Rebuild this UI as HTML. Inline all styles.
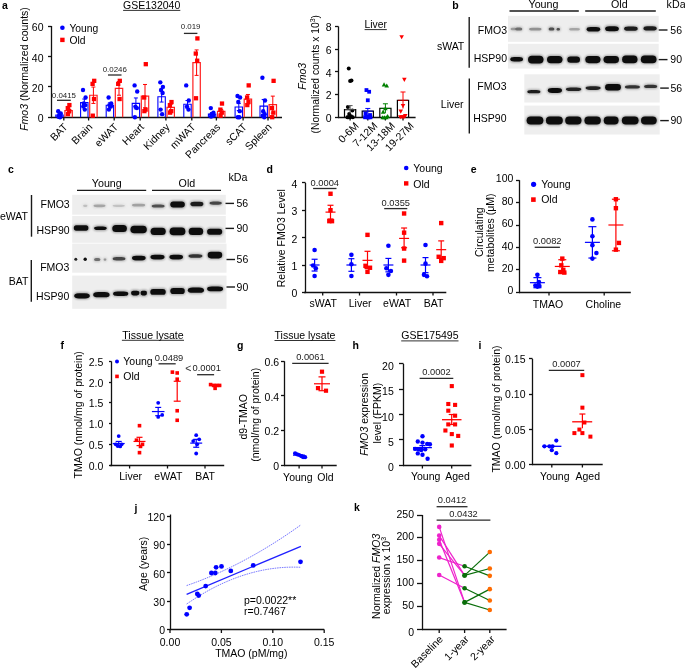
<!DOCTYPE html>
<html><head><meta charset="utf-8"><style>html,body{margin:0;padding:0;background:#fff;}svg{display:block;will-change:transform;}</style></head>
<body>
<svg width="685" height="669" viewBox="0 0 685 669" font-family='"Liberation Sans", sans-serif'>
<defs>
<filter id="b3" x="-30%" y="-100%" width="160%" height="300%"><feGaussianBlur stdDeviation="0.3"/></filter>
<filter id="b5" x="-30%" y="-100%" width="160%" height="300%"><feGaussianBlur stdDeviation="0.5"/></filter>
<filter id="b7" x="-30%" y="-100%" width="160%" height="300%"><feGaussianBlur stdDeviation="0.7"/></filter>
<filter id="b9" x="-30%" y="-100%" width="160%" height="300%"><feGaussianBlur stdDeviation="0.9"/></filter>
<filter id="b10" x="-30%" y="-100%" width="160%" height="300%"><feGaussianBlur stdDeviation="1.0"/></filter>
<filter id="b12" x="-30%" y="-100%" width="160%" height="300%"><feGaussianBlur stdDeviation="1.2"/></filter>
<filter id="b15" x="-30%" y="-100%" width="160%" height="300%"><feGaussianBlur stdDeviation="1.5"/></filter>
</defs>
<rect width="685" height="669" fill="#fff"/>
<text x="2.00" y="8.80" font-size="10.5" font-weight="bold" fill="#000">a</text>
<text x="151.70" y="8.90" font-size="10.5" text-anchor="middle">GSE132040</text>
<line x1="123.10" y1="10.40" x2="180.30" y2="10.40" stroke="#1a1a1a" stroke-width="0.9"/>
<line x1="51.50" y1="118.10" x2="51.50" y2="26.00" stroke="#111" stroke-width="1.3"/>
<line x1="48.00" y1="117.50" x2="51.50" y2="117.50" stroke="#111" stroke-width="1.3"/>
<text x="43.50" y="122.16" font-size="10.5" text-anchor="end">0</text>
<line x1="48.00" y1="86.50" x2="51.50" y2="86.50" stroke="#111" stroke-width="1.3"/>
<text x="43.50" y="91.86" font-size="10.5" text-anchor="end">20</text>
<line x1="48.00" y1="56.50" x2="51.50" y2="56.50" stroke="#111" stroke-width="1.3"/>
<text x="43.50" y="61.56" font-size="10.5" text-anchor="end">40</text>
<line x1="48.00" y1="26.50" x2="51.50" y2="26.50" stroke="#111" stroke-width="1.3"/>
<text x="43.50" y="31.26" font-size="10.5" text-anchor="end">60</text>
<line x1="50.90" y1="117.50" x2="282.00" y2="117.50" stroke="#111" stroke-width="1.3"/>
<line x1="63.80" y1="117.50" x2="63.80" y2="120.50" stroke="#111" stroke-width="1.3"/>
<line x1="88.60" y1="117.50" x2="88.60" y2="120.50" stroke="#111" stroke-width="1.3"/>
<line x1="114.20" y1="117.50" x2="114.20" y2="120.50" stroke="#111" stroke-width="1.3"/>
<line x1="140.20" y1="117.50" x2="140.20" y2="120.50" stroke="#111" stroke-width="1.3"/>
<line x1="165.90" y1="117.50" x2="165.90" y2="120.50" stroke="#111" stroke-width="1.3"/>
<line x1="191.80" y1="117.50" x2="191.80" y2="120.50" stroke="#111" stroke-width="1.3"/>
<line x1="216.40" y1="117.50" x2="216.40" y2="120.50" stroke="#111" stroke-width="1.3"/>
<line x1="243.10" y1="117.50" x2="243.10" y2="120.50" stroke="#111" stroke-width="1.3"/>
<line x1="268.00" y1="117.50" x2="268.00" y2="120.50" stroke="#111" stroke-width="1.3"/>
<path d="M55.80 117.20V114.93H63.20V117.20" fill="none" stroke="#0000ff" stroke-width="1.1"/>
<path d="M64.90 117.20V110.53H72.30V117.20" fill="none" stroke="#ff2020" stroke-width="1.2"/>
<line x1="59.50" y1="113.41" x2="59.50" y2="116.44" stroke="#0000ff" stroke-width="1.0"/>
<line x1="57.50" y1="113.41" x2="61.50" y2="113.41" stroke="#0000ff" stroke-width="1.0"/>
<line x1="57.50" y1="116.44" x2="61.50" y2="116.44" stroke="#0000ff" stroke-width="1.0"/>
<line x1="68.60" y1="108.11" x2="68.60" y2="112.96" stroke="#ff0000" stroke-width="1.0"/>
<line x1="66.60" y1="108.11" x2="70.60" y2="108.11" stroke="#ff0000" stroke-width="1.0"/>
<line x1="66.60" y1="112.96" x2="70.60" y2="112.96" stroke="#ff0000" stroke-width="1.0"/>
<circle cx="58.20" cy="111.14" r="2.2" fill="#0000ff"/>
<circle cx="60.80" cy="113.41" r="2.2" fill="#0000ff"/>
<circle cx="59.00" cy="115.69" r="2.2" fill="#0000ff"/>
<circle cx="60.50" cy="116.44" r="2.2" fill="#0000ff"/>
<circle cx="58.50" cy="116.75" r="2.2" fill="#0000ff"/>
<circle cx="60.00" cy="117.20" r="2.2" fill="#0000ff"/>
<rect x="67.25" y="102.93" width="4.3" height="4.3" fill="#ff0000"/>
<rect x="65.65" y="105.96" width="4.3" height="4.3" fill="#ff0000"/>
<rect x="67.05" y="108.99" width="4.3" height="4.3" fill="#ff0000"/>
<rect x="65.85" y="112.02" width="4.3" height="4.3" fill="#ff0000"/>
<text x="68.30" y="127.70" font-size="10.5" text-anchor="end" transform="rotate(-45 68.30 127.70)">BAT</text>
<path d="M80.60 117.20V102.50H88.00V117.20" fill="none" stroke="#0000ff" stroke-width="1.1"/>
<path d="M89.70 117.20V95.23H97.10V117.20" fill="none" stroke="#ff2020" stroke-width="1.2"/>
<line x1="84.30" y1="99.02" x2="84.30" y2="105.99" stroke="#0000ff" stroke-width="1.0"/>
<line x1="82.30" y1="99.02" x2="86.30" y2="99.02" stroke="#0000ff" stroke-width="1.0"/>
<line x1="82.30" y1="105.99" x2="86.30" y2="105.99" stroke="#0000ff" stroke-width="1.0"/>
<line x1="93.40" y1="87.05" x2="93.40" y2="103.41" stroke="#ff0000" stroke-width="1.0"/>
<line x1="91.40" y1="87.05" x2="95.40" y2="87.05" stroke="#ff0000" stroke-width="1.0"/>
<line x1="91.40" y1="103.41" x2="95.40" y2="103.41" stroke="#ff0000" stroke-width="1.0"/>
<circle cx="83.00" cy="89.93" r="2.2" fill="#0000ff"/>
<circle cx="85.60" cy="97.50" r="2.2" fill="#0000ff"/>
<circle cx="83.80" cy="103.56" r="2.2" fill="#0000ff"/>
<circle cx="85.30" cy="105.08" r="2.2" fill="#0000ff"/>
<circle cx="83.30" cy="106.59" r="2.2" fill="#0000ff"/>
<circle cx="84.80" cy="109.62" r="2.2" fill="#0000ff"/>
<rect x="92.05" y="78.69" width="4.3" height="4.3" fill="#ff0000"/>
<rect x="90.45" y="81.72" width="4.3" height="4.3" fill="#ff0000"/>
<rect x="91.85" y="96.87" width="4.3" height="4.3" fill="#ff0000"/>
<rect x="90.65" y="113.53" width="4.3" height="4.3" fill="#ff0000"/>
<text x="93.10" y="127.70" font-size="10.5" text-anchor="end" transform="rotate(-45 93.10 127.70)">Brain</text>
<path d="M106.20 117.20V105.23H113.60V117.20" fill="none" stroke="#0000ff" stroke-width="1.1"/>
<path d="M115.30 117.20V88.42H122.70V117.20" fill="none" stroke="#ff2020" stroke-width="1.2"/>
<line x1="109.90" y1="102.81" x2="109.90" y2="107.66" stroke="#0000ff" stroke-width="1.0"/>
<line x1="107.90" y1="102.81" x2="111.90" y2="102.81" stroke="#0000ff" stroke-width="1.0"/>
<line x1="107.90" y1="107.66" x2="111.90" y2="107.66" stroke="#0000ff" stroke-width="1.0"/>
<line x1="119.00" y1="81.60" x2="119.00" y2="95.23" stroke="#ff0000" stroke-width="1.0"/>
<line x1="117.00" y1="81.60" x2="121.00" y2="81.60" stroke="#ff0000" stroke-width="1.0"/>
<line x1="117.00" y1="95.23" x2="121.00" y2="95.23" stroke="#ff0000" stroke-width="1.0"/>
<circle cx="108.60" cy="97.50" r="2.2" fill="#0000ff"/>
<circle cx="111.20" cy="103.56" r="2.2" fill="#0000ff"/>
<circle cx="109.40" cy="105.08" r="2.2" fill="#0000ff"/>
<circle cx="110.90" cy="106.59" r="2.2" fill="#0000ff"/>
<circle cx="108.90" cy="109.62" r="2.2" fill="#0000ff"/>
<rect x="117.65" y="78.69" width="4.3" height="4.3" fill="#ff0000"/>
<rect x="116.05" y="81.72" width="4.3" height="4.3" fill="#ff0000"/>
<rect x="117.45" y="96.87" width="4.3" height="4.3" fill="#ff0000"/>
<text x="118.70" y="127.70" font-size="10.5" text-anchor="end" transform="rotate(-45 118.70 127.70)">eWAT</text>
<path d="M132.20 117.20V103.41H139.60V117.20" fill="none" stroke="#0000ff" stroke-width="1.1"/>
<path d="M141.30 117.20V96.14H148.70V117.20" fill="none" stroke="#ff2020" stroke-width="1.2"/>
<line x1="135.90" y1="97.96" x2="135.90" y2="108.87" stroke="#0000ff" stroke-width="1.0"/>
<line x1="133.90" y1="97.96" x2="137.90" y2="97.96" stroke="#0000ff" stroke-width="1.0"/>
<line x1="133.90" y1="108.87" x2="137.90" y2="108.87" stroke="#0000ff" stroke-width="1.0"/>
<line x1="145.00" y1="84.48" x2="145.00" y2="107.81" stroke="#ff0000" stroke-width="1.0"/>
<line x1="143.00" y1="84.48" x2="147.00" y2="84.48" stroke="#ff0000" stroke-width="1.0"/>
<line x1="143.00" y1="107.81" x2="147.00" y2="107.81" stroke="#ff0000" stroke-width="1.0"/>
<circle cx="134.60" cy="85.39" r="2.2" fill="#0000ff"/>
<circle cx="137.20" cy="91.45" r="2.2" fill="#0000ff"/>
<circle cx="135.40" cy="106.59" r="2.2" fill="#0000ff"/>
<circle cx="136.90" cy="108.11" r="2.2" fill="#0000ff"/>
<circle cx="134.90" cy="117.20" r="2.2" fill="#0000ff"/>
<rect x="143.65" y="62.03" width="4.3" height="4.3" fill="#ff0000"/>
<rect x="142.05" y="95.35" width="4.3" height="4.3" fill="#ff0000"/>
<rect x="143.45" y="107.47" width="4.3" height="4.3" fill="#ff0000"/>
<rect x="142.25" y="108.99" width="4.3" height="4.3" fill="#ff0000"/>
<text x="144.70" y="127.70" font-size="10.5" text-anchor="end" transform="rotate(-45 144.70 127.70)">Heart</text>
<path d="M157.90 117.20V96.75H165.30V117.20" fill="none" stroke="#0000ff" stroke-width="1.1"/>
<path d="M167.00 117.20V107.35H174.40V117.20" fill="none" stroke="#ff2020" stroke-width="1.2"/>
<line x1="161.60" y1="91.45" x2="161.60" y2="102.05" stroke="#0000ff" stroke-width="1.0"/>
<line x1="159.60" y1="91.45" x2="163.60" y2="91.45" stroke="#0000ff" stroke-width="1.0"/>
<line x1="159.60" y1="102.05" x2="163.60" y2="102.05" stroke="#0000ff" stroke-width="1.0"/>
<line x1="170.70" y1="104.32" x2="170.70" y2="110.38" stroke="#ff0000" stroke-width="1.0"/>
<line x1="168.70" y1="104.32" x2="172.70" y2="104.32" stroke="#ff0000" stroke-width="1.0"/>
<line x1="168.70" y1="110.38" x2="172.70" y2="110.38" stroke="#ff0000" stroke-width="1.0"/>
<circle cx="160.30" cy="82.36" r="2.2" fill="#0000ff"/>
<circle cx="162.90" cy="86.90" r="2.2" fill="#0000ff"/>
<circle cx="161.10" cy="89.93" r="2.2" fill="#0000ff"/>
<circle cx="162.60" cy="92.96" r="2.2" fill="#0000ff"/>
<circle cx="160.60" cy="109.62" r="2.2" fill="#0000ff"/>
<circle cx="162.10" cy="114.17" r="2.2" fill="#0000ff"/>
<rect x="169.35" y="99.90" width="4.3" height="4.3" fill="#ff0000"/>
<rect x="167.75" y="102.93" width="4.3" height="4.3" fill="#ff0000"/>
<rect x="169.15" y="108.99" width="4.3" height="4.3" fill="#ff0000"/>
<rect x="167.95" y="110.50" width="4.3" height="4.3" fill="#ff0000"/>
<text x="170.40" y="127.70" font-size="10.5" text-anchor="end" transform="rotate(-45 170.40 127.70)">Kidney</text>
<path d="M183.80 117.20V104.32H191.20V117.20" fill="none" stroke="#0000ff" stroke-width="1.1"/>
<path d="M192.90 117.20V62.66H200.30V117.20" fill="none" stroke="#ff2020" stroke-width="1.2"/>
<line x1="187.50" y1="100.53" x2="187.50" y2="108.11" stroke="#0000ff" stroke-width="1.0"/>
<line x1="185.50" y1="100.53" x2="189.50" y2="100.53" stroke="#0000ff" stroke-width="1.0"/>
<line x1="185.50" y1="108.11" x2="189.50" y2="108.11" stroke="#0000ff" stroke-width="1.0"/>
<line x1="196.60" y1="49.93" x2="196.60" y2="75.39" stroke="#ff0000" stroke-width="1.0"/>
<line x1="194.60" y1="49.93" x2="198.60" y2="49.93" stroke="#ff0000" stroke-width="1.0"/>
<line x1="194.60" y1="75.39" x2="198.60" y2="75.39" stroke="#ff0000" stroke-width="1.0"/>
<circle cx="186.20" cy="85.39" r="2.2" fill="#0000ff"/>
<circle cx="188.80" cy="100.53" r="2.2" fill="#0000ff"/>
<circle cx="187.00" cy="106.59" r="2.2" fill="#0000ff"/>
<circle cx="188.50" cy="109.62" r="2.2" fill="#0000ff"/>
<rect x="195.25" y="36.27" width="4.3" height="4.3" fill="#ff0000"/>
<rect x="193.65" y="51.42" width="4.3" height="4.3" fill="#ff0000"/>
<rect x="195.05" y="58.54" width="4.3" height="4.3" fill="#ff0000"/>
<rect x="193.85" y="96.11" width="4.3" height="4.3" fill="#ff0000"/>
<text x="196.30" y="127.70" font-size="10.5" text-anchor="end" transform="rotate(-45 196.30 127.70)">mWAT</text>
<path d="M208.40 117.20V114.17H215.80V117.20" fill="none" stroke="#0000ff" stroke-width="1.1"/>
<path d="M217.50 117.20V111.44H224.90V117.20" fill="none" stroke="#ff2020" stroke-width="1.2"/>
<line x1="212.10" y1="112.66" x2="212.10" y2="115.69" stroke="#0000ff" stroke-width="1.0"/>
<line x1="210.10" y1="112.66" x2="214.10" y2="112.66" stroke="#0000ff" stroke-width="1.0"/>
<line x1="210.10" y1="115.69" x2="214.10" y2="115.69" stroke="#0000ff" stroke-width="1.0"/>
<line x1="221.20" y1="109.62" x2="221.20" y2="113.26" stroke="#ff0000" stroke-width="1.0"/>
<line x1="219.20" y1="109.62" x2="223.20" y2="109.62" stroke="#ff0000" stroke-width="1.0"/>
<line x1="219.20" y1="113.26" x2="223.20" y2="113.26" stroke="#ff0000" stroke-width="1.0"/>
<circle cx="210.80" cy="108.11" r="2.2" fill="#0000ff"/>
<circle cx="213.40" cy="112.66" r="2.2" fill="#0000ff"/>
<circle cx="211.60" cy="114.17" r="2.2" fill="#0000ff"/>
<circle cx="213.10" cy="115.69" r="2.2" fill="#0000ff"/>
<circle cx="211.10" cy="116.44" r="2.2" fill="#0000ff"/>
<rect x="219.85" y="101.41" width="4.3" height="4.3" fill="#ff0000"/>
<rect x="218.25" y="107.47" width="4.3" height="4.3" fill="#ff0000"/>
<rect x="219.65" y="110.50" width="4.3" height="4.3" fill="#ff0000"/>
<rect x="218.45" y="113.53" width="4.3" height="4.3" fill="#ff0000"/>
<text x="220.90" y="127.70" font-size="10.5" text-anchor="end" transform="rotate(-45 220.90 127.70)">Pancreas</text>
<path d="M235.10 117.20V107.05H242.50V117.20" fill="none" stroke="#0000ff" stroke-width="1.1"/>
<path d="M244.20 117.20V99.17H251.60V117.20" fill="none" stroke="#ff2020" stroke-width="1.2"/>
<line x1="238.80" y1="103.56" x2="238.80" y2="110.53" stroke="#0000ff" stroke-width="1.0"/>
<line x1="236.80" y1="103.56" x2="240.80" y2="103.56" stroke="#0000ff" stroke-width="1.0"/>
<line x1="236.80" y1="110.53" x2="240.80" y2="110.53" stroke="#0000ff" stroke-width="1.0"/>
<line x1="247.90" y1="94.48" x2="247.90" y2="103.87" stroke="#ff0000" stroke-width="1.0"/>
<line x1="245.90" y1="94.48" x2="249.90" y2="94.48" stroke="#ff0000" stroke-width="1.0"/>
<line x1="245.90" y1="103.87" x2="249.90" y2="103.87" stroke="#ff0000" stroke-width="1.0"/>
<circle cx="237.50" cy="95.99" r="2.2" fill="#0000ff"/>
<circle cx="240.10" cy="97.50" r="2.2" fill="#0000ff"/>
<circle cx="238.30" cy="102.05" r="2.2" fill="#0000ff"/>
<circle cx="239.80" cy="111.14" r="2.2" fill="#0000ff"/>
<circle cx="237.80" cy="117.20" r="2.2" fill="#0000ff"/>
<circle cx="239.30" cy="117.20" r="2.2" fill="#0000ff"/>
<rect x="246.55" y="83.23" width="4.3" height="4.3" fill="#ff0000"/>
<rect x="244.95" y="95.35" width="4.3" height="4.3" fill="#ff0000"/>
<rect x="246.35" y="99.90" width="4.3" height="4.3" fill="#ff0000"/>
<rect x="245.15" y="102.93" width="4.3" height="4.3" fill="#ff0000"/>
<text x="247.60" y="127.70" font-size="10.5" text-anchor="end" transform="rotate(-45 247.60 127.70)">sCAT</text>
<path d="M260.00 117.20V106.14H267.40V117.20" fill="none" stroke="#0000ff" stroke-width="1.1"/>
<path d="M269.10 117.20V104.63H276.50V117.20" fill="none" stroke="#ff2020" stroke-width="1.2"/>
<line x1="263.70" y1="99.47" x2="263.70" y2="112.81" stroke="#0000ff" stroke-width="1.0"/>
<line x1="261.70" y1="99.47" x2="265.70" y2="99.47" stroke="#0000ff" stroke-width="1.0"/>
<line x1="261.70" y1="112.81" x2="265.70" y2="112.81" stroke="#0000ff" stroke-width="1.0"/>
<line x1="272.80" y1="96.14" x2="272.80" y2="113.11" stroke="#ff0000" stroke-width="1.0"/>
<line x1="270.80" y1="96.14" x2="274.80" y2="96.14" stroke="#ff0000" stroke-width="1.0"/>
<line x1="270.80" y1="113.11" x2="274.80" y2="113.11" stroke="#ff0000" stroke-width="1.0"/>
<circle cx="262.40" cy="77.81" r="2.2" fill="#0000ff"/>
<circle cx="265.00" cy="100.53" r="2.2" fill="#0000ff"/>
<circle cx="263.20" cy="111.14" r="2.2" fill="#0000ff"/>
<circle cx="264.70" cy="114.17" r="2.2" fill="#0000ff"/>
<circle cx="262.70" cy="115.69" r="2.2" fill="#0000ff"/>
<circle cx="264.20" cy="117.20" r="2.2" fill="#0000ff"/>
<rect x="271.45" y="78.69" width="4.3" height="4.3" fill="#ff0000"/>
<rect x="269.85" y="105.96" width="4.3" height="4.3" fill="#ff0000"/>
<rect x="271.25" y="110.50" width="4.3" height="4.3" fill="#ff0000"/>
<rect x="270.05" y="115.05" width="4.3" height="4.3" fill="#ff0000"/>
<text x="272.50" y="127.70" font-size="10.5" text-anchor="end" transform="rotate(-45 272.50 127.70)">Spleen</text>
<text x="28" y="69" font-size="10.5" text-anchor="middle" transform="rotate(-90 28 69)"><tspan font-style="italic">Fmo3</tspan> (Normalized counts)</text>
<circle cx="62.40" cy="27.80" r="2.3" fill="#0000ff"/>
<text x="69.40" y="31.50" font-size="10.3">Young</text>
<rect x="60.20" y="37.70" width="4.4" height="4.4" fill="#ff0000"/>
<text x="69.40" y="43.60" font-size="10.3">Old</text>
<line x1="57.00" y1="100.30" x2="70.80" y2="100.30" stroke="#2a2a2a" stroke-width="1.3"/>
<text x="63.90" y="97.60" font-size="7.9" text-anchor="middle" fill="#222">0.0415</text>
<line x1="108.00" y1="75.00" x2="121.50" y2="75.00" stroke="#2a2a2a" stroke-width="1.3"/>
<text x="114.75" y="72.30" font-size="7.9" text-anchor="middle" fill="#222">0.0246</text>
<line x1="183.90" y1="33.40" x2="197.40" y2="33.40" stroke="#2a2a2a" stroke-width="1.3"/>
<text x="190.65" y="29.30" font-size="7.9" text-anchor="middle" fill="#222">0.019</text>
<line x1="338.50" y1="118.10" x2="338.50" y2="26.50" stroke="#111" stroke-width="1.3"/>
<line x1="335.00" y1="117.50" x2="338.50" y2="117.50" stroke="#111" stroke-width="1.3"/>
<text x="331.50" y="122.06" font-size="10.5" text-anchor="end">0</text>
<line x1="335.00" y1="94.50" x2="338.50" y2="94.50" stroke="#111" stroke-width="1.3"/>
<text x="331.50" y="99.36" font-size="10.5" text-anchor="end">2</text>
<line x1="335.00" y1="71.50" x2="338.50" y2="71.50" stroke="#111" stroke-width="1.3"/>
<text x="331.50" y="76.66" font-size="10.5" text-anchor="end">4</text>
<line x1="335.00" y1="49.50" x2="338.50" y2="49.50" stroke="#111" stroke-width="1.3"/>
<text x="331.50" y="53.96" font-size="10.5" text-anchor="end">6</text>
<line x1="335.00" y1="26.50" x2="338.50" y2="26.50" stroke="#111" stroke-width="1.3"/>
<text x="331.50" y="31.26" font-size="10.5" text-anchor="end">8</text>
<line x1="337.90" y1="117.50" x2="415.60" y2="117.50" stroke="#111" stroke-width="1.3"/>
<line x1="350.10" y1="117.50" x2="350.10" y2="120.50" stroke="#111" stroke-width="1.3"/>
<line x1="367.80" y1="117.50" x2="367.80" y2="120.50" stroke="#111" stroke-width="1.3"/>
<line x1="385.40" y1="117.50" x2="385.40" y2="120.50" stroke="#111" stroke-width="1.3"/>
<line x1="403.00" y1="117.50" x2="403.00" y2="120.50" stroke="#111" stroke-width="1.3"/>
<text x="375.70" y="27.80" font-size="10.3" text-anchor="middle">Liver</text>
<line x1="364.60" y1="29.60" x2="386.80" y2="29.60" stroke="#1a1a1a" stroke-width="0.9"/>
<path d="M344.50 117.30V109.58H355.70V117.30" fill="none" stroke="#000" stroke-width="1.2"/>
<path d="M362.20 117.30V111.17H373.40V117.30" fill="none" stroke="#000" stroke-width="1.2"/>
<path d="M379.80 117.30V108.45H391.00V117.30" fill="none" stroke="#000" stroke-width="1.2"/>
<path d="M397.40 117.30V100.28H408.60V117.30" fill="none" stroke="#000" stroke-width="1.2"/>
<circle cx="348.75" cy="68.50" r="2.0" fill="#000"/>
<circle cx="351.45" cy="80.41" r="2.0" fill="#000"/>
<circle cx="350.10" cy="80.98" r="2.0" fill="#000"/>
<circle cx="347.85" cy="107.08" r="2.0" fill="#000"/>
<circle cx="352.35" cy="110.49" r="2.0" fill="#000"/>
<circle cx="349.20" cy="113.89" r="2.0" fill="#000"/>
<circle cx="351.00" cy="116.16" r="2.0" fill="#000"/>
<circle cx="347.40" cy="117.30" r="2.0" fill="#000"/>
<circle cx="352.80" cy="117.30" r="2.0" fill="#000"/>
<circle cx="350.10" cy="117.30" r="2.0" fill="#000"/>
<circle cx="348.30" cy="117.30" r="2.0" fill="#000"/>
<line x1="350.10" y1="105.61" x2="350.10" y2="113.55" stroke="#555" stroke-width="1.0"/>
<line x1="347.60" y1="105.61" x2="352.60" y2="105.61" stroke="#555" stroke-width="1.0"/>
<line x1="345.10" y1="109.58" x2="355.10" y2="109.58" stroke="#555" stroke-width="0.8"/>
<rect x="364.55" y="88.16" width="3.8" height="3.8" fill="#0000ff"/>
<rect x="367.25" y="89.86" width="3.8" height="3.8" fill="#0000ff"/>
<rect x="365.90" y="98.38" width="3.8" height="3.8" fill="#0000ff"/>
<rect x="363.65" y="111.99" width="3.8" height="3.8" fill="#0000ff"/>
<rect x="368.15" y="113.13" width="3.8" height="3.8" fill="#0000ff"/>
<rect x="365.00" y="114.26" width="3.8" height="3.8" fill="#0000ff"/>
<rect x="366.80" y="115.40" width="3.8" height="3.8" fill="#0000ff"/>
<rect x="363.20" y="115.40" width="3.8" height="3.8" fill="#0000ff"/>
<rect x="368.60" y="115.40" width="3.8" height="3.8" fill="#0000ff"/>
<rect x="365.90" y="115.40" width="3.8" height="3.8" fill="#0000ff"/>
<line x1="367.80" y1="108.45" x2="367.80" y2="113.89" stroke="#0000ff" stroke-width="1.0"/>
<line x1="365.30" y1="108.45" x2="370.30" y2="108.45" stroke="#0000ff" stroke-width="1.0"/>
<line x1="362.80" y1="111.17" x2="372.80" y2="111.17" stroke="#0000ff" stroke-width="0.8"/>
<path d="M381.75 86.45L386.35 86.45L384.05 82.31Z" fill="#008000"/>
<path d="M384.45 87.59L389.05 87.59L386.75 83.45Z" fill="#008000"/>
<path d="M383.10 110.29L387.70 110.29L385.40 106.15Z" fill="#008000"/>
<path d="M380.85 113.69L385.45 113.69L383.15 109.56Z" fill="#008000"/>
<path d="M385.35 118.23L389.95 118.23L387.65 114.09Z" fill="#008000"/>
<path d="M382.20 119.37L386.80 119.37L384.50 115.23Z" fill="#008000"/>
<path d="M384.00 119.37L388.60 119.37L386.30 115.23Z" fill="#008000"/>
<path d="M380.40 119.37L385.00 119.37L382.70 115.23Z" fill="#008000"/>
<line x1="385.40" y1="103.79" x2="385.40" y2="113.10" stroke="#008000" stroke-width="1.0"/>
<line x1="382.90" y1="103.79" x2="387.90" y2="103.79" stroke="#008000" stroke-width="1.0"/>
<line x1="380.40" y1="108.45" x2="390.40" y2="108.45" stroke="#008000" stroke-width="0.8"/>
<path d="M399.35 35.21L403.95 35.21L401.65 39.35Z" fill="#ff0000"/>
<path d="M402.05 77.78L406.65 77.78L404.35 81.91Z" fill="#ff0000"/>
<path d="M400.70 103.88L405.30 103.88L403.00 108.02Z" fill="#ff0000"/>
<path d="M398.45 109.56L403.05 109.56L400.75 113.69Z" fill="#ff0000"/>
<path d="M402.95 114.09L407.55 114.09L405.25 118.23Z" fill="#ff0000"/>
<path d="M399.80 115.23L404.40 115.23L402.10 119.37Z" fill="#ff0000"/>
<path d="M401.60 115.23L406.20 115.23L403.90 119.37Z" fill="#ff0000"/>
<path d="M398.00 115.23L402.60 115.23L400.30 119.37Z" fill="#ff0000"/>
<line x1="403.00" y1="91.99" x2="403.00" y2="108.56" stroke="#ff0000" stroke-width="1.0"/>
<line x1="400.50" y1="91.99" x2="405.50" y2="91.99" stroke="#ff0000" stroke-width="1.0"/>
<line x1="398.00" y1="100.28" x2="408.00" y2="100.28" stroke="#ff0000" stroke-width="0.8"/>
<text x="359.40" y="126.50" font-size="10.5" text-anchor="end" transform="rotate(-45 359.40 126.50)">0-6M</text>
<text x="378.10" y="126.50" font-size="10.5" text-anchor="end" transform="rotate(-45 378.10 126.50)">7-12M</text>
<text x="395.70" y="126.50" font-size="10.5" text-anchor="end" transform="rotate(-45 395.70 126.50)">13-18M</text>
<text x="414.40" y="126.50" font-size="10.5" text-anchor="end" transform="rotate(-45 414.40 126.50)">19-27M</text>
<text x="306.2" y="76.2" font-size="10.5" text-anchor="middle" font-style="italic" transform="rotate(-90 306.2 76.2)">Fmo3</text>
<text x="319.2" y="74.2" font-size="10.3" text-anchor="middle" transform="rotate(-90 319.2 74.2)">(Normalized counts x 10<tspan font-size="7" dy="-4">3</tspan><tspan dy="4">)</tspan></text>
<text x="452.30" y="8.50" font-size="10.5" font-weight="bold" fill="#000">b</text>
<text x="543.50" y="8.00" font-size="10.7" text-anchor="middle">Young</text>
<line x1="509.50" y1="11.00" x2="578.80" y2="11.00" stroke="#1a1a1a" stroke-width="1.4"/>
<text x="619.30" y="7.80" font-size="10.7" text-anchor="middle">Old</text>
<line x1="585.20" y1="11.00" x2="655.80" y2="11.00" stroke="#1a1a1a" stroke-width="1.4"/>
<text x="666.60" y="7.80" font-size="10.7">kDa</text>
<line x1="469.20" y1="17.00" x2="469.20" y2="67.70" stroke="#1a1a1a" stroke-width="1.4"/>
<text x="464.30" y="49.70" font-size="10.5" text-anchor="end">sWAT</text>
<text x="507.00" y="34.40" font-size="10.5" text-anchor="end">FMO3</text>
<text x="507.00" y="62.40" font-size="10.5" text-anchor="end">HSP90</text>
<rect x="508.00" y="15.80" width="150.70" height="26.00" fill="#eeeeee"/>
<rect x="508.00" y="43.80" width="150.70" height="24.80" fill="#eeeeee"/>
<rect x="509.90" y="26.80" width="6.70" height="4.40" rx="1.65" ry="2.20" fill="#999" opacity="0.32" filter="url(#b12)"/>
<rect x="510.60" y="27.70" width="5.30" height="2.60" rx="1.65" ry="1.30" fill="#999" opacity="0.9" filter="url(#b7)"/>
<rect x="514.40" y="26.60" width="8.60" height="4.80" rx="2.22" ry="2.40" fill="#666" opacity="0.32" filter="url(#b12)"/>
<rect x="515.10" y="27.50" width="7.20" height="3.00" rx="2.22" ry="1.50" fill="#666" opacity="0.9" filter="url(#b7)"/>
<rect x="528.40" y="26.90" width="13.80" height="4.60" rx="3.78" ry="2.30" fill="#888" opacity="0.30" filter="url(#b12)"/>
<rect x="529.10" y="27.80" width="12.40" height="2.80" rx="3.78" ry="1.40" fill="#888" opacity="0.85" filter="url(#b7)"/>
<rect x="547.90" y="26.60" width="7.20" height="4.80" rx="1.80" ry="2.40" fill="#444" opacity="0.32" filter="url(#b12)"/>
<rect x="548.60" y="27.50" width="5.80" height="3.00" rx="1.80" ry="1.50" fill="#444" opacity="0.9" filter="url(#b7)"/>
<rect x="555.90" y="27.10" width="4.70" height="4.40" rx="1.05" ry="2.20" fill="#444" opacity="0.32" filter="url(#b12)"/>
<rect x="556.60" y="28.00" width="3.30" height="2.60" rx="1.05" ry="1.30" fill="#444" opacity="0.9" filter="url(#b7)"/>
<rect x="568.40" y="27.00" width="12.20" height="4.40" rx="3.30" ry="2.20" fill="#999" opacity="0.28" filter="url(#b12)"/>
<rect x="569.10" y="27.90" width="10.80" height="2.60" rx="3.30" ry="1.30" fill="#999" opacity="0.8" filter="url(#b7)"/>
<rect x="585.90" y="26.10" width="15.00" height="6.40" rx="4.14" ry="3.20" fill="#111" opacity="0.35" filter="url(#b12)"/>
<rect x="586.60" y="27.00" width="13.60" height="4.60" rx="4.14" ry="2.30" fill="#111" opacity="1" filter="url(#b7)"/>
<rect x="604.40" y="25.30" width="15.20" height="6.80" rx="4.20" ry="3.40" fill="#111" opacity="0.35" filter="url(#b12)"/>
<rect x="605.10" y="26.20" width="13.80" height="5.00" rx="4.20" ry="2.50" fill="#111" opacity="1" filter="url(#b7)"/>
<rect x="623.40" y="25.70" width="15.00" height="6.00" rx="4.14" ry="3.00" fill="#1a1a1a" opacity="0.35" filter="url(#b12)"/>
<rect x="624.10" y="26.60" width="13.60" height="4.20" rx="4.14" ry="2.10" fill="#1a1a1a" opacity="1" filter="url(#b7)"/>
<rect x="642.80" y="25.40" width="14.60" height="6.00" rx="4.02" ry="3.00" fill="#1a1a1a" opacity="0.35" filter="url(#b12)"/>
<rect x="643.50" y="26.30" width="13.20" height="4.20" rx="4.02" ry="2.10" fill="#1a1a1a" opacity="1" filter="url(#b7)"/>
<rect x="509.60" y="56.20" width="14.10" height="6.20" rx="3.87" ry="3.10" fill="#0d0d0d" opacity="0.35" filter="url(#b12)"/>
<rect x="510.30" y="57.10" width="12.70" height="4.40" rx="3.87" ry="2.20" fill="#0d0d0d" opacity="1" filter="url(#b7)"/>
<rect x="527.10" y="54.80" width="17.30" height="9.60" rx="4.80" fill="#0d0d0d" opacity="0.35" filter="url(#b12)"/>
<rect x="528.00" y="55.70" width="15.50" height="7.80" rx="3.90" fill="#0d0d0d" opacity="1" filter="url(#b7)"/>
<rect x="546.10" y="55.00" width="17.30" height="9.20" rx="4.60" fill="#0d0d0d" opacity="0.35" filter="url(#b12)"/>
<rect x="547.00" y="55.90" width="15.50" height="7.40" rx="3.70" fill="#0d0d0d" opacity="1" filter="url(#b7)"/>
<rect x="566.40" y="55.50" width="14.50" height="8.20" rx="4.10" fill="#0d0d0d" opacity="0.35" filter="url(#b12)"/>
<rect x="567.30" y="56.40" width="12.70" height="6.40" rx="3.20" fill="#0d0d0d" opacity="1" filter="url(#b7)"/>
<rect x="584.40" y="55.15" width="17.00" height="8.90" rx="4.45" fill="#0d0d0d" opacity="0.35" filter="url(#b12)"/>
<rect x="585.30" y="56.05" width="15.20" height="7.10" rx="3.55" fill="#0d0d0d" opacity="1" filter="url(#b7)"/>
<rect x="602.60" y="55.15" width="17.30" height="8.90" rx="4.45" fill="#0d0d0d" opacity="0.35" filter="url(#b12)"/>
<rect x="603.50" y="56.05" width="15.50" height="7.10" rx="3.55" fill="#0d0d0d" opacity="1" filter="url(#b7)"/>
<rect x="621.20" y="54.70" width="17.20" height="9.40" rx="4.70" fill="#0d0d0d" opacity="0.35" filter="url(#b12)"/>
<rect x="622.10" y="55.60" width="15.40" height="7.60" rx="3.80" fill="#0d0d0d" opacity="1" filter="url(#b7)"/>
<rect x="639.90" y="54.70" width="17.50" height="9.40" rx="4.70" fill="#0d0d0d" opacity="0.35" filter="url(#b12)"/>
<rect x="640.80" y="55.60" width="15.70" height="7.60" rx="3.80" fill="#0d0d0d" opacity="1" filter="url(#b7)"/>
<line x1="658.70" y1="30.00" x2="667.50" y2="30.00" stroke="#1a1a1a" stroke-width="1.4"/>
<text x="670.30" y="33.80" font-size="10.5">56</text>
<line x1="658.70" y1="59.60" x2="667.50" y2="59.60" stroke="#1a1a1a" stroke-width="1.4"/>
<text x="670.30" y="63.40" font-size="10.5">90</text>
<line x1="469.30" y1="78.60" x2="469.30" y2="133.40" stroke="#1a1a1a" stroke-width="1.4"/>
<text x="463.60" y="107.70" font-size="10.5" text-anchor="end">Liver</text>
<text x="506.50" y="90.20" font-size="10.5" text-anchor="end">FMO3</text>
<text x="506.50" y="122.40" font-size="10.5" text-anchor="end">HSP90</text>
<rect x="524.30" y="74.30" width="135.40" height="28.20" fill="#eeeeee"/>
<rect x="524.30" y="105.60" width="135.40" height="28.90" fill="#eeeeee"/>
<rect x="526.60" y="89.20" width="14.50" height="5.00" rx="3.99" ry="2.50" fill="#1a1a1a" opacity="0.35" filter="url(#b12)"/>
<rect x="527.30" y="90.10" width="13.10" height="3.20" rx="3.99" ry="1.60" fill="#1a1a1a" opacity="1" filter="url(#b7)"/>
<rect x="547.10" y="87.20" width="15.60" height="6.60" rx="4.32" ry="3.30" fill="#0d0d0d" opacity="0.35" filter="url(#b12)"/>
<rect x="547.80" y="88.10" width="14.20" height="4.80" rx="4.32" ry="2.40" fill="#0d0d0d" opacity="1" filter="url(#b7)"/>
<rect x="565.20" y="86.60" width="16.80" height="5.40" rx="4.68" ry="2.70" fill="#222" opacity="0.35" filter="url(#b12)"/>
<rect x="565.90" y="87.50" width="15.40" height="3.60" rx="4.68" ry="1.80" fill="#222" opacity="1" filter="url(#b7)"/>
<rect x="584.90" y="85.40" width="16.40" height="5.40" rx="4.56" ry="2.70" fill="#222" opacity="0.35" filter="url(#b12)"/>
<rect x="585.60" y="86.30" width="15.00" height="3.60" rx="4.56" ry="1.80" fill="#222" opacity="1" filter="url(#b7)"/>
<rect x="604.20" y="83.10" width="17.60" height="8.40" rx="4.20" fill="#0a0a0a" opacity="0.35" filter="url(#b12)"/>
<rect x="605.10" y="84.00" width="15.80" height="6.60" rx="3.30" fill="#0a0a0a" opacity="1" filter="url(#b7)"/>
<rect x="624.20" y="84.40" width="16.40" height="5.00" rx="4.56" ry="2.50" fill="#333" opacity="0.35" filter="url(#b12)"/>
<rect x="624.90" y="85.30" width="15.00" height="3.20" rx="4.56" ry="1.60" fill="#333" opacity="1" filter="url(#b7)"/>
<rect x="643.40" y="83.80" width="14.50" height="5.20" rx="3.99" ry="2.60" fill="#333" opacity="0.35" filter="url(#b12)"/>
<rect x="644.10" y="84.70" width="13.10" height="3.40" rx="3.99" ry="1.70" fill="#333" opacity="1" filter="url(#b7)"/>
<rect x="525.70" y="115.70" width="18.60" height="9.80" rx="4.90" fill="#0a0a0a" opacity="0.35" filter="url(#b12)"/>
<rect x="526.60" y="116.60" width="16.80" height="8.00" rx="4.00" fill="#0a0a0a" opacity="1" filter="url(#b7)"/>
<rect x="545.00" y="115.70" width="18.70" height="9.80" rx="4.90" fill="#0a0a0a" opacity="0.35" filter="url(#b12)"/>
<rect x="545.90" y="116.60" width="16.90" height="8.00" rx="4.00" fill="#0a0a0a" opacity="1" filter="url(#b7)"/>
<rect x="564.30" y="115.70" width="18.10" height="9.80" rx="4.90" fill="#0a0a0a" opacity="0.35" filter="url(#b12)"/>
<rect x="565.20" y="116.60" width="16.30" height="8.00" rx="4.00" fill="#0a0a0a" opacity="1" filter="url(#b7)"/>
<rect x="583.50" y="115.70" width="18.20" height="9.80" rx="4.90" fill="#0a0a0a" opacity="0.35" filter="url(#b12)"/>
<rect x="584.40" y="116.60" width="16.40" height="8.00" rx="4.00" fill="#0a0a0a" opacity="1" filter="url(#b7)"/>
<rect x="602.80" y="115.70" width="16.70" height="9.80" rx="4.90" fill="#0a0a0a" opacity="0.35" filter="url(#b12)"/>
<rect x="603.70" y="116.60" width="14.90" height="8.00" rx="4.00" fill="#0a0a0a" opacity="1" filter="url(#b7)"/>
<rect x="620.90" y="115.70" width="18.60" height="9.80" rx="4.90" fill="#0a0a0a" opacity="0.35" filter="url(#b12)"/>
<rect x="621.80" y="116.60" width="16.80" height="8.00" rx="4.00" fill="#0a0a0a" opacity="1" filter="url(#b7)"/>
<rect x="640.10" y="115.70" width="17.50" height="9.80" rx="4.90" fill="#0a0a0a" opacity="0.35" filter="url(#b12)"/>
<rect x="641.00" y="116.60" width="15.70" height="8.00" rx="4.00" fill="#0a0a0a" opacity="1" filter="url(#b7)"/>
<line x1="660.20" y1="88.10" x2="668.80" y2="88.10" stroke="#1a1a1a" stroke-width="1.4"/>
<text x="670.50" y="91.90" font-size="10.5">56</text>
<line x1="660.20" y1="120.60" x2="668.80" y2="120.60" stroke="#1a1a1a" stroke-width="1.4"/>
<text x="670.50" y="124.40" font-size="10.5">90</text>
<text x="8.00" y="173.20" font-size="10.5" font-weight="bold" fill="#000">c</text>
<text x="106.80" y="186.50" font-size="10.7" text-anchor="middle">Young</text>
<line x1="77.00" y1="190.40" x2="146.20" y2="190.40" stroke="#1a1a1a" stroke-width="1.4"/>
<text x="186.90" y="186.50" font-size="10.7" text-anchor="middle">Old</text>
<line x1="152.00" y1="190.40" x2="221.00" y2="190.40" stroke="#1a1a1a" stroke-width="1.4"/>
<text x="228.50" y="180.90" font-size="10.7">kDa</text>
<line x1="31.50" y1="195.00" x2="31.50" y2="236.70" stroke="#1a1a1a" stroke-width="1.4"/>
<text x="28.00" y="220.40" font-size="10.5" text-anchor="end">eWAT</text>
<text x="69.70" y="207.70" font-size="10.5" text-anchor="end">FMO3</text>
<text x="69.70" y="233.60" font-size="10.5" text-anchor="end">HSP90</text>
<rect x="72.20" y="194.80" width="153.60" height="19.90" fill="#eeeeee"/>
<rect x="72.20" y="215.90" width="153.60" height="26.90" fill="#eeeeee"/>
<rect x="82.40" y="203.80" width="5.70" height="4.00" rx="1.35" ry="2.00" fill="#aaa" opacity="0.21" filter="url(#b12)"/>
<rect x="83.10" y="204.70" width="4.30" height="2.20" rx="1.35" ry="1.10" fill="#aaa" opacity="0.6" filter="url(#b7)"/>
<rect x="92.80" y="203.50" width="13.40" height="4.60" rx="3.66" ry="2.30" fill="#999" opacity="0.28" filter="url(#b12)"/>
<rect x="93.50" y="204.40" width="12.00" height="2.80" rx="3.66" ry="1.40" fill="#999" opacity="0.8" filter="url(#b7)"/>
<rect x="112.00" y="203.80" width="13.50" height="4.00" rx="3.69" ry="2.00" fill="#bbb" opacity="0.28" filter="url(#b12)"/>
<rect x="112.70" y="204.70" width="12.10" height="2.20" rx="3.69" ry="1.10" fill="#bbb" opacity="0.8" filter="url(#b7)"/>
<rect x="131.30" y="202.90" width="14.60" height="4.60" rx="4.02" ry="2.30" fill="#999" opacity="0.30" filter="url(#b12)"/>
<rect x="132.00" y="203.80" width="13.20" height="2.80" rx="4.02" ry="1.40" fill="#999" opacity="0.85" filter="url(#b7)"/>
<rect x="151.00" y="203.50" width="14.30" height="5.00" rx="3.93" ry="2.50" fill="#444" opacity="0.32" filter="url(#b12)"/>
<rect x="151.70" y="204.40" width="12.90" height="3.20" rx="3.93" ry="1.60" fill="#444" opacity="0.9" filter="url(#b7)"/>
<rect x="169.40" y="200.60" width="16.30" height="7.80" rx="3.90" fill="#0a0a0a" opacity="0.35" filter="url(#b12)"/>
<rect x="170.30" y="201.50" width="14.50" height="6.00" rx="3.00" fill="#0a0a0a" opacity="1" filter="url(#b7)"/>
<rect x="189.70" y="200.80" width="14.40" height="6.40" rx="3.96" ry="3.20" fill="#1a1a1a" opacity="0.35" filter="url(#b12)"/>
<rect x="190.40" y="201.70" width="13.00" height="4.60" rx="3.96" ry="2.30" fill="#1a1a1a" opacity="1" filter="url(#b7)"/>
<rect x="208.80" y="200.50" width="13.70" height="5.20" rx="3.75" ry="2.60" fill="#444" opacity="0.35" filter="url(#b12)"/>
<rect x="209.50" y="201.40" width="12.30" height="3.40" rx="3.75" ry="1.70" fill="#444" opacity="1" filter="url(#b7)"/>
<rect x="72.90" y="224.45" width="16.40" height="7.10" rx="3.55" fill="#0a0a0a" opacity="0.35" filter="url(#b12)"/>
<rect x="73.80" y="225.35" width="14.60" height="5.30" rx="2.65" fill="#0a0a0a" opacity="1" filter="url(#b7)"/>
<rect x="93.40" y="225.50" width="14.00" height="5.40" rx="3.84" ry="2.70" fill="#0a0a0a" opacity="0.35" filter="url(#b12)"/>
<rect x="94.10" y="226.40" width="12.60" height="3.60" rx="3.84" ry="1.80" fill="#0a0a0a" opacity="1" filter="url(#b7)"/>
<rect x="111.40" y="224.05" width="16.40" height="8.90" rx="4.45" fill="#0a0a0a" opacity="0.35" filter="url(#b12)"/>
<rect x="112.30" y="224.95" width="14.60" height="7.10" rx="3.55" fill="#0a0a0a" opacity="1" filter="url(#b7)"/>
<rect x="129.50" y="224.80" width="18.20" height="9.40" rx="4.70" fill="#0a0a0a" opacity="0.35" filter="url(#b12)"/>
<rect x="130.40" y="225.70" width="16.40" height="7.60" rx="3.80" fill="#0a0a0a" opacity="1" filter="url(#b7)"/>
<rect x="149.70" y="226.95" width="16.90" height="8.90" rx="4.45" fill="#0a0a0a" opacity="0.35" filter="url(#b12)"/>
<rect x="150.60" y="227.85" width="15.10" height="7.10" rx="3.55" fill="#0a0a0a" opacity="1" filter="url(#b7)"/>
<rect x="168.70" y="226.70" width="17.60" height="9.40" rx="4.70" fill="#0a0a0a" opacity="0.35" filter="url(#b12)"/>
<rect x="169.60" y="227.60" width="15.80" height="7.60" rx="3.80" fill="#0a0a0a" opacity="1" filter="url(#b7)"/>
<rect x="187.80" y="226.95" width="16.30" height="8.90" rx="4.45" fill="#0a0a0a" opacity="0.35" filter="url(#b12)"/>
<rect x="188.70" y="227.85" width="14.50" height="7.10" rx="3.55" fill="#0a0a0a" opacity="1" filter="url(#b7)"/>
<rect x="206.20" y="227.85" width="16.90" height="7.90" rx="3.95" fill="#0a0a0a" opacity="0.35" filter="url(#b12)"/>
<rect x="207.10" y="228.75" width="15.10" height="6.10" rx="3.05" fill="#0a0a0a" opacity="1" filter="url(#b7)"/>
<line x1="225.50" y1="203.40" x2="234.00" y2="203.40" stroke="#1a1a1a" stroke-width="1.4"/>
<text x="236.40" y="207.20" font-size="10.5">56</text>
<line x1="225.50" y1="228.40" x2="234.00" y2="228.40" stroke="#1a1a1a" stroke-width="1.4"/>
<text x="236.40" y="232.20" font-size="10.5">90</text>
<line x1="31.30" y1="260.00" x2="31.30" y2="301.70" stroke="#1a1a1a" stroke-width="1.4"/>
<text x="28.50" y="285.00" font-size="10.5" text-anchor="end">BAT</text>
<text x="69.30" y="270.80" font-size="10.5" text-anchor="end">FMO3</text>
<text x="69.30" y="299.80" font-size="10.5" text-anchor="end">HSP90</text>
<rect x="72.20" y="243.60" width="154.30" height="29.10" fill="#eeeeee"/>
<rect x="72.20" y="275.60" width="154.30" height="33.20" fill="#eeeeee"/>
<circle cx="75.8" cy="259.3" r="1.5" fill="#222" filter="url(#b5)"/>
<circle cx="85.2" cy="259.3" r="1.7" fill="#111" filter="url(#b5)"/>
<rect x="93.40" y="257.20" width="7.60" height="4.80" rx="1.92" ry="2.40" fill="#666" opacity="0.32" filter="url(#b12)"/>
<rect x="94.10" y="258.10" width="6.20" height="3.00" rx="1.92" ry="1.50" fill="#666" opacity="0.9" filter="url(#b7)"/>
<rect x="102.90" y="257.60" width="4.20" height="4.00" rx="0.90" ry="2.00" fill="#888" opacity="0.28" filter="url(#b12)"/>
<rect x="103.60" y="258.50" width="2.80" height="2.20" rx="0.90" ry="1.10" fill="#888" opacity="0.8" filter="url(#b7)"/>
<rect x="112.00" y="256.10" width="14.10" height="5.20" rx="3.87" ry="2.60" fill="#444" opacity="0.35" filter="url(#b12)"/>
<rect x="112.70" y="257.00" width="12.70" height="3.40" rx="3.87" ry="1.70" fill="#444" opacity="1" filter="url(#b7)"/>
<rect x="131.30" y="254.90" width="15.10" height="6.40" rx="4.17" ry="3.20" fill="#111" opacity="0.35" filter="url(#b12)"/>
<rect x="132.00" y="255.80" width="13.70" height="4.60" rx="4.17" ry="2.30" fill="#111" opacity="1" filter="url(#b7)"/>
<rect x="149.70" y="253.90" width="15.60" height="6.40" rx="4.32" ry="3.20" fill="#111" opacity="0.35" filter="url(#b12)"/>
<rect x="150.40" y="254.80" width="14.20" height="4.60" rx="4.32" ry="2.30" fill="#111" opacity="1" filter="url(#b7)"/>
<rect x="168.70" y="253.90" width="15.00" height="6.40" rx="4.14" ry="3.20" fill="#111" opacity="0.35" filter="url(#b12)"/>
<rect x="169.40" y="254.80" width="13.60" height="4.60" rx="4.14" ry="2.30" fill="#111" opacity="1" filter="url(#b7)"/>
<rect x="187.80" y="253.30" width="15.30" height="5.40" rx="4.23" ry="2.70" fill="#333" opacity="0.35" filter="url(#b12)"/>
<rect x="188.50" y="254.20" width="13.90" height="3.60" rx="4.23" ry="1.80" fill="#333" opacity="1" filter="url(#b7)"/>
<rect x="206.80" y="250.90" width="16.30" height="8.40" rx="4.20" fill="#0a0a0a" opacity="0.35" filter="url(#b12)"/>
<rect x="207.70" y="251.80" width="14.50" height="6.60" rx="3.30" fill="#0a0a0a" opacity="1" filter="url(#b7)"/>
<rect x="73.50" y="292.30" width="17.00" height="7.00" rx="4.74" ry="3.50" fill="#0a0a0a" opacity="0.35" filter="url(#b12)"/>
<rect x="74.20" y="293.20" width="15.60" height="5.20" rx="4.74" ry="2.60" fill="#0a0a0a" opacity="1" filter="url(#b7)"/>
<rect x="92.50" y="291.20" width="17.80" height="7.00" rx="4.98" ry="3.50" fill="#0a0a0a" opacity="0.35" filter="url(#b12)"/>
<rect x="93.20" y="292.10" width="16.40" height="5.20" rx="4.98" ry="2.60" fill="#0a0a0a" opacity="1" filter="url(#b7)"/>
<rect x="112.40" y="290.60" width="16.60" height="6.20" rx="4.62" ry="3.10" fill="#0a0a0a" opacity="0.35" filter="url(#b12)"/>
<rect x="113.10" y="291.50" width="15.20" height="4.40" rx="4.62" ry="2.20" fill="#0a0a0a" opacity="1" filter="url(#b7)"/>
<rect x="130.40" y="289.80" width="9.70" height="6.60" rx="2.55" ry="3.30" fill="#0a0a0a" opacity="0.35" filter="url(#b12)"/>
<rect x="131.10" y="290.70" width="8.30" height="4.80" rx="2.55" ry="2.40" fill="#0a0a0a" opacity="1" filter="url(#b7)"/>
<rect x="139.90" y="289.80" width="7.80" height="6.60" rx="1.98" ry="3.30" fill="#0a0a0a" opacity="0.35" filter="url(#b12)"/>
<rect x="140.60" y="290.70" width="6.40" height="4.80" rx="1.98" ry="2.40" fill="#0a0a0a" opacity="1" filter="url(#b7)"/>
<rect x="149.40" y="288.10" width="17.20" height="7.60" rx="3.80" fill="#0a0a0a" opacity="0.35" filter="url(#b12)"/>
<rect x="150.30" y="289.00" width="15.40" height="5.80" rx="2.90" fill="#0a0a0a" opacity="1" filter="url(#b7)"/>
<rect x="169.40" y="287.00" width="16.30" height="8.00" rx="4.00" fill="#0a0a0a" opacity="0.35" filter="url(#b12)"/>
<rect x="170.30" y="287.90" width="14.50" height="6.20" rx="3.10" fill="#0a0a0a" opacity="1" filter="url(#b7)"/>
<rect x="187.10" y="286.70" width="17.60" height="7.00" rx="4.92" ry="3.50" fill="#0a0a0a" opacity="0.35" filter="url(#b12)"/>
<rect x="187.80" y="287.60" width="16.20" height="5.20" rx="4.92" ry="2.60" fill="#0a0a0a" opacity="1" filter="url(#b7)"/>
<rect x="206.40" y="285.60" width="17.40" height="6.60" rx="4.86" ry="3.30" fill="#0a0a0a" opacity="0.35" filter="url(#b12)"/>
<rect x="207.10" y="286.50" width="16.00" height="4.80" rx="4.86" ry="2.40" fill="#0a0a0a" opacity="1" filter="url(#b7)"/>
<line x1="226.50" y1="259.50" x2="235.00" y2="259.50" stroke="#1a1a1a" stroke-width="1.4"/>
<text x="236.60" y="263.30" font-size="10.5">56</text>
<line x1="226.50" y1="287.00" x2="235.00" y2="287.00" stroke="#1a1a1a" stroke-width="1.4"/>
<text x="236.60" y="290.80" font-size="10.5">90</text>
<text x="266.50" y="173.40" font-size="10.5" font-weight="bold" fill="#000">d</text>
<line x1="305.50" y1="293.10" x2="305.50" y2="182.90" stroke="#111" stroke-width="1.3"/>
<line x1="302.00" y1="292.50" x2="305.50" y2="292.50" stroke="#111" stroke-width="1.3"/>
<text x="297.30" y="297.46" font-size="10.5" text-anchor="end">0</text>
<line x1="302.00" y1="265.50" x2="305.50" y2="265.50" stroke="#111" stroke-width="1.3"/>
<text x="297.30" y="270.06" font-size="10.5" text-anchor="end">1</text>
<line x1="302.00" y1="237.50" x2="305.50" y2="237.50" stroke="#111" stroke-width="1.3"/>
<text x="297.30" y="242.66" font-size="10.5" text-anchor="end">2</text>
<line x1="302.00" y1="210.50" x2="305.50" y2="210.50" stroke="#111" stroke-width="1.3"/>
<text x="297.30" y="215.26" font-size="10.5" text-anchor="end">3</text>
<line x1="302.00" y1="182.50" x2="305.50" y2="182.50" stroke="#111" stroke-width="1.3"/>
<text x="297.30" y="187.86" font-size="10.5" text-anchor="end">4</text>
<line x1="303.90" y1="292.50" x2="446.30" y2="292.50" stroke="#111" stroke-width="1.3"/>
<line x1="322.70" y1="292.50" x2="322.70" y2="295.50" stroke="#111" stroke-width="1.3"/>
<line x1="359.50" y1="292.50" x2="359.50" y2="295.50" stroke="#111" stroke-width="1.3"/>
<line x1="396.50" y1="292.50" x2="396.50" y2="295.50" stroke="#111" stroke-width="1.3"/>
<line x1="433.00" y1="292.50" x2="433.00" y2="295.50" stroke="#111" stroke-width="1.3"/>
<text x="323.30" y="306.50" font-size="10.5" text-anchor="middle">sWAT</text>
<text x="360.10" y="306.50" font-size="10.5" text-anchor="middle">Liver</text>
<text x="397.10" y="306.50" font-size="10.5" text-anchor="middle">eWAT</text>
<text x="433.60" y="306.50" font-size="10.5" text-anchor="middle">BAT</text>
<text x="285.5" y="238.2" font-size="10.5" text-anchor="middle" transform="rotate(-90 285.5 238.2)">Relative FMO3 Level</text>
<circle cx="406.20" cy="168.00" r="2.3" fill="#0000ff"/>
<text x="413.30" y="172.10" font-size="10.5">Young</text>
<rect x="404.00" y="181.20" width="4.4" height="4.4" fill="#ff0000"/>
<text x="413.30" y="187.80" font-size="10.5">Old</text>
<circle cx="314.60" cy="249.93" r="2.3" fill="#0000ff"/>
<circle cx="313.10" cy="265.55" r="2.3" fill="#0000ff"/>
<circle cx="315.80" cy="268.29" r="2.3" fill="#0000ff"/>
<circle cx="314.60" cy="275.96" r="2.3" fill="#0000ff"/>
<line x1="314.60" y1="259.25" x2="314.60" y2="271.03" stroke="#0000ff" stroke-width="1.2"/>
<line x1="311.60" y1="259.25" x2="317.60" y2="259.25" stroke="#0000ff" stroke-width="1.2"/>
<line x1="311.60" y1="271.03" x2="317.60" y2="271.03" stroke="#0000ff" stroke-width="1.2"/>
<line x1="309.60" y1="265.00" x2="319.60" y2="265.00" stroke="#0000ff" stroke-width="1.2"/>
<rect x="328.30" y="191.56" width="4.4" height="4.4" fill="#ff0000"/>
<rect x="328.30" y="208.00" width="4.4" height="4.4" fill="#ff0000"/>
<rect x="327.10" y="218.96" width="4.4" height="4.4" fill="#ff0000"/>
<rect x="329.80" y="218.96" width="4.4" height="4.4" fill="#ff0000"/>
<line x1="330.50" y1="205.27" x2="330.50" y2="218.97" stroke="#ff0000" stroke-width="1.2"/>
<line x1="327.50" y1="205.27" x2="333.50" y2="205.27" stroke="#ff0000" stroke-width="1.2"/>
<line x1="327.50" y1="218.97" x2="333.50" y2="218.97" stroke="#ff0000" stroke-width="1.2"/>
<line x1="325.50" y1="212.12" x2="335.50" y2="212.12" stroke="#ff0000" stroke-width="1.2"/>
<circle cx="351.40" cy="254.86" r="2.3" fill="#0000ff"/>
<circle cx="351.40" cy="264.18" r="2.3" fill="#0000ff"/>
<circle cx="351.40" cy="275.96" r="2.3" fill="#0000ff"/>
<line x1="351.40" y1="258.70" x2="351.40" y2="271.30" stroke="#0000ff" stroke-width="1.2"/>
<line x1="348.40" y1="258.70" x2="354.40" y2="258.70" stroke="#0000ff" stroke-width="1.2"/>
<line x1="348.40" y1="271.30" x2="354.40" y2="271.30" stroke="#0000ff" stroke-width="1.2"/>
<line x1="346.40" y1="265.00" x2="356.40" y2="265.00" stroke="#0000ff" stroke-width="1.2"/>
<rect x="365.30" y="232.66" width="4.4" height="4.4" fill="#ff0000"/>
<rect x="363.30" y="263.62" width="4.4" height="4.4" fill="#ff0000"/>
<rect x="367.80" y="265.54" width="4.4" height="4.4" fill="#ff0000"/>
<rect x="365.30" y="269.65" width="4.4" height="4.4" fill="#ff0000"/>
<line x1="367.50" y1="251.30" x2="367.50" y2="268.56" stroke="#ff0000" stroke-width="1.2"/>
<line x1="364.50" y1="251.30" x2="370.50" y2="251.30" stroke="#ff0000" stroke-width="1.2"/>
<line x1="364.50" y1="268.56" x2="370.50" y2="268.56" stroke="#ff0000" stroke-width="1.2"/>
<line x1="362.50" y1="260.34" x2="372.50" y2="260.34" stroke="#ff0000" stroke-width="1.2"/>
<circle cx="388.40" cy="245.82" r="2.3" fill="#0000ff"/>
<circle cx="386.40" cy="268.29" r="2.3" fill="#0000ff"/>
<circle cx="390.90" cy="271.03" r="2.3" fill="#0000ff"/>
<circle cx="388.40" cy="274.86" r="2.3" fill="#0000ff"/>
<line x1="388.40" y1="258.42" x2="388.40" y2="271.85" stroke="#0000ff" stroke-width="1.2"/>
<line x1="385.40" y1="258.42" x2="391.40" y2="258.42" stroke="#0000ff" stroke-width="1.2"/>
<line x1="385.40" y1="271.85" x2="391.40" y2="271.85" stroke="#0000ff" stroke-width="1.2"/>
<line x1="383.40" y1="265.00" x2="393.40" y2="265.00" stroke="#0000ff" stroke-width="1.2"/>
<rect x="401.90" y="211.29" width="4.4" height="4.4" fill="#ff0000"/>
<rect x="401.90" y="230.47" width="4.4" height="4.4" fill="#ff0000"/>
<rect x="401.90" y="246.36" width="4.4" height="4.4" fill="#ff0000"/>
<rect x="401.90" y="258.42" width="4.4" height="4.4" fill="#ff0000"/>
<line x1="404.10" y1="228.01" x2="404.10" y2="247.74" stroke="#ff0000" stroke-width="1.2"/>
<line x1="401.10" y1="228.01" x2="407.10" y2="228.01" stroke="#ff0000" stroke-width="1.2"/>
<line x1="401.10" y1="247.74" x2="407.10" y2="247.74" stroke="#ff0000" stroke-width="1.2"/>
<line x1="399.10" y1="238.42" x2="409.10" y2="238.42" stroke="#ff0000" stroke-width="1.2"/>
<circle cx="425.50" cy="245.00" r="2.3" fill="#0000ff"/>
<circle cx="425.50" cy="263.63" r="2.3" fill="#0000ff"/>
<circle cx="424.00" cy="274.86" r="2.3" fill="#0000ff"/>
<circle cx="427.00" cy="276.23" r="2.3" fill="#0000ff"/>
<line x1="425.50" y1="257.60" x2="425.50" y2="272.67" stroke="#0000ff" stroke-width="1.2"/>
<line x1="422.50" y1="257.60" x2="428.50" y2="257.60" stroke="#0000ff" stroke-width="1.2"/>
<line x1="422.50" y1="272.67" x2="428.50" y2="272.67" stroke="#0000ff" stroke-width="1.2"/>
<line x1="420.50" y1="265.00" x2="430.50" y2="265.00" stroke="#0000ff" stroke-width="1.2"/>
<rect x="439.00" y="220.88" width="4.4" height="4.4" fill="#ff0000"/>
<rect x="436.50" y="254.58" width="4.4" height="4.4" fill="#ff0000"/>
<rect x="441.50" y="255.95" width="4.4" height="4.4" fill="#ff0000"/>
<rect x="439.00" y="258.69" width="4.4" height="4.4" fill="#ff0000"/>
<line x1="441.20" y1="240.89" x2="441.20" y2="258.42" stroke="#ff0000" stroke-width="1.2"/>
<line x1="438.20" y1="240.89" x2="444.20" y2="240.89" stroke="#ff0000" stroke-width="1.2"/>
<line x1="438.20" y1="258.42" x2="444.20" y2="258.42" stroke="#ff0000" stroke-width="1.2"/>
<line x1="436.20" y1="249.66" x2="446.20" y2="249.66" stroke="#ff0000" stroke-width="1.2"/>
<line x1="313.10" y1="188.50" x2="336.50" y2="188.50" stroke="#2a2a2a" stroke-width="1.3"/>
<text x="324.80" y="185.80" font-size="9.3" text-anchor="middle" fill="#222">0.0004</text>
<line x1="384.20" y1="208.60" x2="407.30" y2="208.60" stroke="#2a2a2a" stroke-width="1.3"/>
<text x="395.75" y="205.60" font-size="9.3" text-anchor="middle" fill="#222">0.0355</text>
<text x="470.80" y="172.90" font-size="10.5" font-weight="bold" fill="#000">e</text>
<line x1="519.50" y1="293.10" x2="519.50" y2="180.20" stroke="#111" stroke-width="1.3"/>
<line x1="516.00" y1="292.50" x2="519.50" y2="292.50" stroke="#111" stroke-width="1.3"/>
<text x="513.40" y="294.46" font-size="10.5" text-anchor="end">0</text>
<line x1="516.00" y1="269.50" x2="519.50" y2="269.50" stroke="#111" stroke-width="1.3"/>
<text x="513.40" y="272.06" font-size="10.5" text-anchor="end">20</text>
<line x1="516.00" y1="247.50" x2="519.50" y2="247.50" stroke="#111" stroke-width="1.3"/>
<text x="513.40" y="249.66" font-size="10.5" text-anchor="end">40</text>
<line x1="516.00" y1="225.50" x2="519.50" y2="225.50" stroke="#111" stroke-width="1.3"/>
<text x="513.40" y="227.26" font-size="10.5" text-anchor="end">60</text>
<line x1="516.00" y1="202.50" x2="519.50" y2="202.50" stroke="#111" stroke-width="1.3"/>
<text x="513.40" y="204.86" font-size="10.5" text-anchor="end">80</text>
<line x1="516.00" y1="180.50" x2="519.50" y2="180.50" stroke="#111" stroke-width="1.3"/>
<text x="513.40" y="182.46" font-size="10.5" text-anchor="end">100</text>
<line x1="518.90" y1="292.50" x2="630.80" y2="292.50" stroke="#111" stroke-width="1.3"/>
<line x1="549.00" y1="292.50" x2="549.00" y2="295.50" stroke="#111" stroke-width="1.3"/>
<line x1="604.20" y1="292.50" x2="604.20" y2="295.50" stroke="#111" stroke-width="1.3"/>
<text x="547.90" y="307.80" font-size="10.5" text-anchor="middle">TMAO</text>
<text x="603.40" y="307.80" font-size="10.5" text-anchor="middle">Choline</text>
<text x="483" y="232.2" font-size="10.5" text-anchor="middle" transform="rotate(-90 483 232.2)">Circulating</text>
<text x="493.8" y="232.7" font-size="10.5" text-anchor="middle" transform="rotate(-90 493.8 232.7)">metabolites (μM)</text>
<circle cx="533.60" cy="184.30" r="2.6" fill="#0000ff"/>
<text x="541.20" y="187.80" font-size="10.5">Young</text>
<rect x="531.10" y="197.30" width="4.6" height="4.6" fill="#ff0000"/>
<text x="541.20" y="203.20" font-size="10.5">Old</text>
<circle cx="537.40" cy="274.84" r="2.3" fill="#0000ff"/>
<circle cx="538.90" cy="282.12" r="2.3" fill="#0000ff"/>
<circle cx="535.40" cy="285.48" r="2.3" fill="#0000ff"/>
<circle cx="539.40" cy="286.04" r="2.3" fill="#0000ff"/>
<circle cx="537.40" cy="286.60" r="2.3" fill="#0000ff"/>
<line x1="537.40" y1="277.64" x2="537.40" y2="287.72" stroke="#0000ff" stroke-width="1.2"/>
<line x1="533.40" y1="277.64" x2="541.40" y2="277.64" stroke="#0000ff" stroke-width="1.2"/>
<line x1="533.40" y1="287.72" x2="541.40" y2="287.72" stroke="#0000ff" stroke-width="1.2"/>
<line x1="529.90" y1="282.68" x2="544.90" y2="282.68" stroke="#0000ff" stroke-width="1.2"/>
<rect x="560.10" y="256.40" width="4.4" height="4.4" fill="#ff0000"/>
<rect x="559.10" y="263.12" width="4.4" height="4.4" fill="#ff0000"/>
<rect x="561.10" y="267.60" width="4.4" height="4.4" fill="#ff0000"/>
<rect x="558.10" y="269.84" width="4.4" height="4.4" fill="#ff0000"/>
<rect x="562.10" y="270.40" width="4.4" height="4.4" fill="#ff0000"/>
<line x1="562.30" y1="259.72" x2="562.30" y2="273.16" stroke="#ff0000" stroke-width="1.2"/>
<line x1="558.30" y1="259.72" x2="566.30" y2="259.72" stroke="#ff0000" stroke-width="1.2"/>
<line x1="558.30" y1="273.16" x2="566.30" y2="273.16" stroke="#ff0000" stroke-width="1.2"/>
<line x1="554.80" y1="266.44" x2="569.80" y2="266.44" stroke="#ff0000" stroke-width="1.2"/>
<circle cx="592.40" cy="219.40" r="2.3" fill="#0000ff"/>
<circle cx="592.40" cy="236.20" r="2.3" fill="#0000ff"/>
<circle cx="592.40" cy="245.16" r="2.3" fill="#0000ff"/>
<circle cx="596.40" cy="253.00" r="2.3" fill="#0000ff"/>
<circle cx="592.40" cy="258.60" r="2.3" fill="#0000ff"/>
<line x1="592.40" y1="226.68" x2="592.40" y2="258.04" stroke="#0000ff" stroke-width="1.2"/>
<line x1="588.40" y1="226.68" x2="596.40" y2="226.68" stroke="#0000ff" stroke-width="1.2"/>
<line x1="588.40" y1="258.04" x2="596.40" y2="258.04" stroke="#0000ff" stroke-width="1.2"/>
<line x1="584.90" y1="242.36" x2="599.90" y2="242.36" stroke="#0000ff" stroke-width="1.2"/>
<rect x="613.70" y="197.04" width="4.4" height="4.4" fill="#ff0000"/>
<rect x="613.70" y="206.00" width="4.4" height="4.4" fill="#ff0000"/>
<rect x="616.70" y="240.72" width="4.4" height="4.4" fill="#ff0000"/>
<rect x="613.70" y="247.44" width="4.4" height="4.4" fill="#ff0000"/>
<line x1="615.90" y1="199.24" x2="615.90" y2="250.76" stroke="#ff0000" stroke-width="1.2"/>
<line x1="611.90" y1="199.24" x2="619.90" y2="199.24" stroke="#ff0000" stroke-width="1.2"/>
<line x1="611.90" y1="250.76" x2="619.90" y2="250.76" stroke="#ff0000" stroke-width="1.2"/>
<line x1="608.40" y1="225.00" x2="623.40" y2="225.00" stroke="#ff0000" stroke-width="1.2"/>
<line x1="534.70" y1="247.30" x2="559.90" y2="247.30" stroke="#2a2a2a" stroke-width="1.3"/>
<text x="547.30" y="244.30" font-size="9.3" text-anchor="middle" fill="#222">0.0082</text>
<text x="60.60" y="348.60" font-size="10.5" font-weight="bold" fill="#000">f</text>
<text x="153.00" y="338.70" font-size="10.6" text-anchor="middle">Tissue lysate</text>
<line x1="121.90" y1="340.30" x2="184.00" y2="340.30" stroke="#1a1a1a" stroke-width="0.9"/>
<line x1="111.50" y1="466.10" x2="111.50" y2="361.40" stroke="#111" stroke-width="1.3"/>
<line x1="109.00" y1="465.50" x2="111.50" y2="465.50" stroke="#111" stroke-width="1.3"/>
<text x="103.30" y="469.66" font-size="10.5" text-anchor="end">0.0</text>
<line x1="109.00" y1="444.50" x2="111.50" y2="444.50" stroke="#111" stroke-width="1.3"/>
<text x="103.30" y="448.91" font-size="10.5" text-anchor="end">0.5</text>
<line x1="109.00" y1="423.50" x2="111.50" y2="423.50" stroke="#111" stroke-width="1.3"/>
<text x="103.30" y="428.16" font-size="10.5" text-anchor="end">1.0</text>
<line x1="109.00" y1="402.50" x2="111.50" y2="402.50" stroke="#111" stroke-width="1.3"/>
<text x="103.30" y="407.41" font-size="10.5" text-anchor="end">1.5</text>
<line x1="109.00" y1="382.50" x2="111.50" y2="382.50" stroke="#111" stroke-width="1.3"/>
<text x="103.30" y="386.66" font-size="10.5" text-anchor="end">2.0</text>
<line x1="109.00" y1="361.50" x2="111.50" y2="361.50" stroke="#111" stroke-width="1.3"/>
<text x="103.30" y="365.91" font-size="10.5" text-anchor="end">2.5</text>
<line x1="109.90" y1="465.50" x2="224.20" y2="465.50" stroke="#111" stroke-width="1.3"/>
<line x1="129.60" y1="465.50" x2="129.60" y2="468.50" stroke="#111" stroke-width="1.3"/>
<line x1="167.50" y1="465.50" x2="167.50" y2="468.50" stroke="#111" stroke-width="1.3"/>
<line x1="205.00" y1="465.50" x2="205.00" y2="468.50" stroke="#111" stroke-width="1.3"/>
<text x="130.60" y="479.50" font-size="10.5" text-anchor="middle">Liver</text>
<text x="168.30" y="479.50" font-size="10.5" text-anchor="middle">eWAT</text>
<text x="205.00" y="479.50" font-size="10.5" text-anchor="middle">BAT</text>
<text x="82" y="414.8" font-size="10.5" text-anchor="middle" transform="rotate(-90 82 414.8)">TMAO (nmol/mg of protein)</text>
<circle cx="117.00" cy="361.60" r="2.0" fill="#0000ff"/>
<text x="123.30" y="365.40" font-size="10.5">Young</text>
<rect x="115.20" y="374.60" width="3.6" height="3.6" fill="#ff0000"/>
<text x="123.30" y="380.20" font-size="10.5">Old</text>
<circle cx="118.70" cy="436.05" r="1.9" fill="#0000ff"/>
<circle cx="115.70" cy="444.35" r="1.9" fill="#0000ff"/>
<circle cx="121.70" cy="444.35" r="1.9" fill="#0000ff"/>
<circle cx="117.70" cy="446.01" r="1.9" fill="#0000ff"/>
<circle cx="120.20" cy="446.43" r="1.9" fill="#0000ff"/>
<line x1="118.70" y1="441.45" x2="118.70" y2="445.60" stroke="#0000ff" stroke-width="1.2"/>
<line x1="115.70" y1="441.45" x2="121.70" y2="441.45" stroke="#0000ff" stroke-width="1.2"/>
<line x1="115.70" y1="445.60" x2="121.70" y2="445.60" stroke="#0000ff" stroke-width="1.2"/>
<line x1="112.70" y1="443.52" x2="124.70" y2="443.52" stroke="#0000ff" stroke-width="1.2"/>
<rect x="137.70" y="423.88" width="3.6" height="3.6" fill="#ff0000"/>
<rect x="134.70" y="438.40" width="3.6" height="3.6" fill="#ff0000"/>
<rect x="140.70" y="442.55" width="3.6" height="3.6" fill="#ff0000"/>
<rect x="138.70" y="444.62" width="3.6" height="3.6" fill="#ff0000"/>
<rect x="137.70" y="450.85" width="3.6" height="3.6" fill="#ff0000"/>
<line x1="139.50" y1="437.30" x2="139.50" y2="445.60" stroke="#ff0000" stroke-width="1.2"/>
<line x1="136.50" y1="437.30" x2="142.50" y2="437.30" stroke="#ff0000" stroke-width="1.2"/>
<line x1="136.50" y1="445.60" x2="142.50" y2="445.60" stroke="#ff0000" stroke-width="1.2"/>
<line x1="133.50" y1="441.45" x2="145.50" y2="441.45" stroke="#ff0000" stroke-width="1.2"/>
<circle cx="158.20" cy="402.85" r="1.9" fill="#0000ff"/>
<circle cx="162.20" cy="414.89" r="1.9" fill="#0000ff"/>
<circle cx="158.20" cy="416.96" r="1.9" fill="#0000ff"/>
<line x1="158.20" y1="407.42" x2="158.20" y2="415.72" stroke="#0000ff" stroke-width="1.2"/>
<line x1="155.20" y1="407.42" x2="161.20" y2="407.42" stroke="#0000ff" stroke-width="1.2"/>
<line x1="155.20" y1="415.72" x2="161.20" y2="415.72" stroke="#0000ff" stroke-width="1.2"/>
<line x1="151.90" y1="411.56" x2="164.50" y2="411.56" stroke="#0000ff" stroke-width="1.2"/>
<rect x="170.60" y="370.34" width="3.6" height="3.6" fill="#ff0000"/>
<rect x="175.40" y="371.17" width="3.6" height="3.6" fill="#ff0000"/>
<rect x="175.40" y="377.40" width="3.6" height="3.6" fill="#ff0000"/>
<rect x="175.40" y="408.94" width="3.6" height="3.6" fill="#ff0000"/>
<rect x="175.40" y="418.48" width="3.6" height="3.6" fill="#ff0000"/>
<line x1="177.20" y1="381.27" x2="177.20" y2="401.19" stroke="#ff0000" stroke-width="1.2"/>
<line x1="173.70" y1="381.27" x2="180.70" y2="381.27" stroke="#ff0000" stroke-width="1.2"/>
<line x1="173.70" y1="401.19" x2="180.70" y2="401.19" stroke="#ff0000" stroke-width="1.2"/>
<circle cx="196.20" cy="435.22" r="1.9" fill="#0000ff"/>
<circle cx="193.20" cy="441.03" r="1.9" fill="#0000ff"/>
<circle cx="199.20" cy="439.37" r="1.9" fill="#0000ff"/>
<circle cx="196.20" cy="453.48" r="1.9" fill="#0000ff"/>
<circle cx="197.20" cy="444.35" r="1.9" fill="#0000ff"/>
<line x1="196.20" y1="439.37" x2="196.20" y2="447.25" stroke="#0000ff" stroke-width="1.2"/>
<line x1="193.20" y1="439.37" x2="199.20" y2="439.37" stroke="#0000ff" stroke-width="1.2"/>
<line x1="193.20" y1="447.25" x2="199.20" y2="447.25" stroke="#0000ff" stroke-width="1.2"/>
<line x1="190.20" y1="443.11" x2="202.20" y2="443.11" stroke="#0000ff" stroke-width="1.2"/>
<rect x="208.80" y="382.79" width="3.6" height="3.6" fill="#ff0000"/>
<rect x="211.80" y="383.62" width="3.6" height="3.6" fill="#ff0000"/>
<rect x="214.80" y="383.62" width="3.6" height="3.6" fill="#ff0000"/>
<rect x="217.80" y="383.62" width="3.6" height="3.6" fill="#ff0000"/>
<rect x="213.30" y="386.53" width="3.6" height="3.6" fill="#ff0000"/>
<line x1="215.10" y1="384.59" x2="215.10" y2="386.25" stroke="#ff0000" stroke-width="1.2"/>
<line x1="212.10" y1="384.59" x2="218.10" y2="384.59" stroke="#ff0000" stroke-width="1.2"/>
<line x1="212.10" y1="386.25" x2="218.10" y2="386.25" stroke="#ff0000" stroke-width="1.2"/>
<line x1="209.10" y1="385.42" x2="221.10" y2="385.42" stroke="#ff0000" stroke-width="1.2"/>
<line x1="158.50" y1="363.80" x2="175.70" y2="363.80" stroke="#2a2a2a" stroke-width="1.3"/>
<text x="169.00" y="361.00" font-size="9.3" text-anchor="middle" fill="#222">0.0489</text>
<line x1="197.10" y1="374.70" x2="214.10" y2="374.70" stroke="#2a2a2a" stroke-width="1.3"/>
<text x="206.70" y="371.40" font-size="9.3" text-anchor="middle" fill="#222">0.0001</text>
<text x="185.20" y="371.60" font-size="10.5" fill="#333">&lt;</text>
<text x="237.10" y="348.60" font-size="10.5" font-weight="bold" fill="#000">g</text>
<text x="305.00" y="338.70" font-size="10.5" text-anchor="middle">Tissue lysate</text>
<line x1="274.50" y1="340.50" x2="335.40" y2="340.50" stroke="#1a1a1a" stroke-width="0.9"/>
<line x1="284.50" y1="466.10" x2="284.50" y2="361.30" stroke="#111" stroke-width="1.3"/>
<line x1="281.00" y1="465.50" x2="284.50" y2="465.50" stroke="#111" stroke-width="1.3"/>
<text x="279.20" y="469.76" font-size="10.5" text-anchor="end">0</text>
<line x1="281.00" y1="430.50" x2="284.50" y2="430.50" stroke="#111" stroke-width="1.3"/>
<text x="279.20" y="435.20" font-size="10.5" text-anchor="end">0.2</text>
<line x1="281.00" y1="395.50" x2="284.50" y2="395.50" stroke="#111" stroke-width="1.3"/>
<text x="279.20" y="400.64" font-size="10.5" text-anchor="end">0.4</text>
<line x1="281.00" y1="361.50" x2="284.50" y2="361.50" stroke="#111" stroke-width="1.3"/>
<text x="279.20" y="366.08" font-size="10.5" text-anchor="end">0.6</text>
<line x1="283.90" y1="465.50" x2="336.70" y2="465.50" stroke="#111" stroke-width="1.3"/>
<line x1="299.10" y1="465.50" x2="299.10" y2="468.50" stroke="#111" stroke-width="1.3"/>
<line x1="322.00" y1="465.50" x2="322.00" y2="468.50" stroke="#111" stroke-width="1.3"/>
<text x="297.80" y="481.00" font-size="10.5" text-anchor="middle">Young</text>
<text x="325.50" y="481.00" font-size="10.5" text-anchor="middle">Old</text>
<text x="247.5" y="416.7" font-size="10.5" text-anchor="middle" transform="rotate(-90 247.5 416.7)">d9-TMAO</text>
<text x="259.5" y="414.8" font-size="10.5" text-anchor="middle" transform="rotate(-90 259.5 414.8)">(nmol/mg of protein)</text>
<circle cx="295.10" cy="453.25" r="2.1" fill="#0000ff"/>
<circle cx="297.10" cy="454.29" r="2.1" fill="#0000ff"/>
<circle cx="299.10" cy="454.98" r="2.1" fill="#0000ff"/>
<circle cx="301.10" cy="456.01" r="2.1" fill="#0000ff"/>
<circle cx="303.10" cy="457.05" r="2.1" fill="#0000ff"/>
<circle cx="305.10" cy="457.22" r="2.1" fill="#0000ff"/>
<circle cx="302.10" cy="456.36" r="2.1" fill="#0000ff"/>
<line x1="293.00" y1="455.15" x2="305.00" y2="455.15" stroke="#0000ff" stroke-width="1.2"/>
<rect x="319.90" y="369.59" width="4.2" height="4.2" fill="#ff0000"/>
<rect x="315.90" y="386.00" width="4.2" height="4.2" fill="#ff0000"/>
<rect x="323.90" y="388.60" width="4.2" height="4.2" fill="#ff0000"/>
<line x1="322.00" y1="376.87" x2="322.00" y2="390.70" stroke="#ff0000" stroke-width="1.2"/>
<line x1="318.50" y1="376.87" x2="325.50" y2="376.87" stroke="#ff0000" stroke-width="1.2"/>
<line x1="318.50" y1="390.70" x2="325.50" y2="390.70" stroke="#ff0000" stroke-width="1.2"/>
<line x1="314.00" y1="383.78" x2="330.00" y2="383.78" stroke="#ff0000" stroke-width="1.2"/>
<line x1="292.20" y1="363.40" x2="328.60" y2="363.40" stroke="#2a2a2a" stroke-width="1.3"/>
<text x="310.40" y="359.50" font-size="9.3" text-anchor="middle" fill="#222">0.0061</text>
<text x="352.60" y="348.60" font-size="10.5" font-weight="bold" fill="#000">h</text>
<text x="429.90" y="338.90" font-size="10.5" text-anchor="middle">GSE175495</text>
<line x1="401.20" y1="340.90" x2="458.50" y2="340.90" stroke="#1a1a1a" stroke-width="0.9"/>
<line x1="403.50" y1="466.10" x2="403.50" y2="363.90" stroke="#111" stroke-width="1.3"/>
<line x1="399.00" y1="465.50" x2="403.50" y2="465.50" stroke="#111" stroke-width="1.3"/>
<text x="393.80" y="471.26" font-size="10.5" text-anchor="end">0</text>
<line x1="399.00" y1="439.50" x2="403.50" y2="439.50" stroke="#111" stroke-width="1.3"/>
<text x="393.80" y="445.98" font-size="10.5" text-anchor="end">5</text>
<line x1="399.00" y1="414.50" x2="403.50" y2="414.50" stroke="#111" stroke-width="1.3"/>
<text x="393.80" y="420.71" font-size="10.5" text-anchor="end">10</text>
<line x1="399.00" y1="389.50" x2="403.50" y2="389.50" stroke="#111" stroke-width="1.3"/>
<text x="393.80" y="395.43" font-size="10.5" text-anchor="end">15</text>
<line x1="399.00" y1="363.50" x2="403.50" y2="363.50" stroke="#111" stroke-width="1.3"/>
<text x="393.80" y="370.16" font-size="10.5" text-anchor="end">20</text>
<line x1="402.90" y1="465.50" x2="471.40" y2="465.50" stroke="#111" stroke-width="1.3"/>
<line x1="422.40" y1="465.50" x2="422.40" y2="468.50" stroke="#111" stroke-width="1.3"/>
<line x1="451.70" y1="465.50" x2="451.70" y2="468.50" stroke="#111" stroke-width="1.3"/>
<text x="425.70" y="480.40" font-size="10.5" text-anchor="middle">Young</text>
<text x="457.50" y="480.40" font-size="10.5" text-anchor="middle">Aged</text>
<text x="368" y="414.4" font-size="10.5" text-anchor="middle" transform="rotate(-90 368 414.4)"><tspan font-style="italic">FMO3</tspan> expression</text>
<text x="381.5" y="413.1" font-size="10.5" text-anchor="middle" transform="rotate(-90 381.5 413.1)">level (FPKM)</text>
<circle cx="422.50" cy="436.30" r="2.2" fill="#0000ff"/>
<circle cx="417.80" cy="441.50" r="2.2" fill="#0000ff"/>
<circle cx="422.50" cy="442.60" r="2.2" fill="#0000ff"/>
<circle cx="427.20" cy="443.90" r="2.2" fill="#0000ff"/>
<circle cx="429.90" cy="444.30" r="2.2" fill="#0000ff"/>
<circle cx="415.10" cy="448.90" r="2.2" fill="#0000ff"/>
<circle cx="418.50" cy="449.30" r="2.2" fill="#0000ff"/>
<circle cx="421.20" cy="450.00" r="2.2" fill="#0000ff"/>
<circle cx="425.20" cy="449.30" r="2.2" fill="#0000ff"/>
<circle cx="417.80" cy="453.40" r="2.2" fill="#0000ff"/>
<circle cx="422.50" cy="454.70" r="2.2" fill="#0000ff"/>
<circle cx="427.60" cy="458.70" r="2.2" fill="#0000ff"/>
<line x1="413.10" y1="447.60" x2="431.90" y2="447.60" stroke="#0000ff" stroke-width="1.3"/>
<line x1="422.40" y1="445.60" x2="422.40" y2="449.60" stroke="#0000ff" stroke-width="1.2"/>
<line x1="419.40" y1="445.60" x2="425.40" y2="445.60" stroke="#0000ff" stroke-width="1.2"/>
<line x1="419.40" y1="449.60" x2="425.40" y2="449.60" stroke="#0000ff" stroke-width="1.2"/>
<rect x="449.75" y="384.05" width="4.1" height="4.1" fill="#ff0000"/>
<rect x="446.25" y="401.95" width="4.1" height="4.1" fill="#ff0000"/>
<rect x="453.05" y="402.85" width="4.1" height="4.1" fill="#ff0000"/>
<rect x="446.25" y="408.65" width="4.1" height="4.1" fill="#ff0000"/>
<rect x="453.05" y="413.65" width="4.1" height="4.1" fill="#ff0000"/>
<rect x="446.25" y="422.35" width="4.1" height="4.1" fill="#ff0000"/>
<rect x="453.05" y="422.35" width="4.1" height="4.1" fill="#ff0000"/>
<rect x="443.35" y="428.45" width="4.1" height="4.1" fill="#ff0000"/>
<rect x="449.75" y="432.05" width="4.1" height="4.1" fill="#ff0000"/>
<rect x="456.15" y="433.85" width="4.1" height="4.1" fill="#ff0000"/>
<rect x="449.75" y="443.45" width="4.1" height="4.1" fill="#ff0000"/>
<line x1="442.00" y1="419.70" x2="461.50" y2="419.70" stroke="#ff0000" stroke-width="1.3"/>
<line x1="451.70" y1="414.50" x2="451.70" y2="424.50" stroke="#ff0000" stroke-width="1.2"/>
<line x1="448.70" y1="414.50" x2="454.70" y2="414.50" stroke="#ff0000" stroke-width="1.2"/>
<line x1="448.70" y1="424.50" x2="454.70" y2="424.50" stroke="#ff0000" stroke-width="1.2"/>
<line x1="419.60" y1="378.30" x2="453.30" y2="378.30" stroke="#2a2a2a" stroke-width="1.3"/>
<text x="436.45" y="374.60" font-size="9.3" text-anchor="middle" fill="#222">0.0002</text>
<text x="478.50" y="348.60" font-size="10.5" font-weight="bold" fill="#000">i</text>
<line x1="532.50" y1="465.10" x2="532.50" y2="358.90" stroke="#111" stroke-width="1.3"/>
<line x1="529.00" y1="464.50" x2="532.50" y2="464.50" stroke="#111" stroke-width="1.3"/>
<text x="525.50" y="469.16" font-size="10.5" text-anchor="end">0.00</text>
<line x1="529.00" y1="429.50" x2="532.50" y2="429.50" stroke="#111" stroke-width="1.3"/>
<text x="525.50" y="433.82" font-size="10.5" text-anchor="end">0.05</text>
<line x1="529.00" y1="394.50" x2="532.50" y2="394.50" stroke="#111" stroke-width="1.3"/>
<text x="525.50" y="398.49" font-size="10.5" text-anchor="end">0.10</text>
<line x1="529.00" y1="358.50" x2="532.50" y2="358.50" stroke="#111" stroke-width="1.3"/>
<text x="525.50" y="363.15" font-size="10.5" text-anchor="end">0.15</text>
<line x1="531.90" y1="464.50" x2="602.70" y2="464.50" stroke="#111" stroke-width="1.3"/>
<line x1="551.80" y1="464.50" x2="551.80" y2="467.50" stroke="#111" stroke-width="1.3"/>
<line x1="582.40" y1="464.50" x2="582.40" y2="467.50" stroke="#111" stroke-width="1.3"/>
<text x="554.80" y="480.40" font-size="10.5" text-anchor="middle">Young</text>
<text x="587.80" y="480.40" font-size="10.5" text-anchor="middle">Aged</text>
<text x="499.8" y="409" font-size="10.5" text-anchor="middle" transform="rotate(-90 499.8 409)">TMAO (nmol/mg of protein)</text>
<circle cx="544.40" cy="446.30" r="2.1" fill="#0000ff"/>
<circle cx="549.40" cy="446.30" r="2.1" fill="#0000ff"/>
<circle cx="556.30" cy="440.60" r="2.1" fill="#0000ff"/>
<circle cx="551.80" cy="450.20" r="2.1" fill="#0000ff"/>
<circle cx="556.30" cy="453.20" r="2.1" fill="#0000ff"/>
<circle cx="552.50" cy="446.30" r="2.1" fill="#0000ff"/>
<line x1="542.30" y1="446.30" x2="561.40" y2="446.30" stroke="#0000ff" stroke-width="1.3"/>
<rect x="580.40" y="373.15" width="4.0" height="4.0" fill="#ff0000"/>
<rect x="580.40" y="405.66" width="4.0" height="4.0" fill="#ff0000"/>
<rect x="582.40" y="420.50" width="4.0" height="4.0" fill="#ff0000"/>
<rect x="577.40" y="427.56" width="4.0" height="4.0" fill="#ff0000"/>
<rect x="572.40" y="431.10" width="4.0" height="4.0" fill="#ff0000"/>
<rect x="580.40" y="431.10" width="4.0" height="4.0" fill="#ff0000"/>
<rect x="588.40" y="434.63" width="4.0" height="4.0" fill="#ff0000"/>
<line x1="572.20" y1="421.80" x2="592.20" y2="421.80" stroke="#ff0000" stroke-width="1.3"/>
<line x1="582.40" y1="414.02" x2="582.40" y2="428.15" stroke="#ff0000" stroke-width="1.2"/>
<line x1="579.40" y1="414.02" x2="585.40" y2="414.02" stroke="#ff0000" stroke-width="1.2"/>
<line x1="548.80" y1="370.30" x2="584.20" y2="370.30" stroke="#2a2a2a" stroke-width="1.3"/>
<text x="566.50" y="366.60" font-size="9.3" text-anchor="middle" fill="#222">0.0007</text>
<text x="134.50" y="511.50" font-size="10.5" font-weight="bold" fill="#000">j</text>
<line x1="170.50" y1="630.10" x2="170.50" y2="514.50" stroke="#111" stroke-width="1.3"/>
<line x1="167.00" y1="629.50" x2="170.50" y2="629.50" stroke="#111" stroke-width="1.3"/>
<text x="165.00" y="634.16" font-size="10.5" text-anchor="end">0</text>
<line x1="167.00" y1="601.50" x2="170.50" y2="601.50" stroke="#111" stroke-width="1.3"/>
<text x="165.00" y="605.91" font-size="10.5" text-anchor="end">30</text>
<line x1="167.00" y1="572.50" x2="170.50" y2="572.50" stroke="#111" stroke-width="1.3"/>
<text x="165.00" y="577.66" font-size="10.5" text-anchor="end">60</text>
<line x1="167.00" y1="544.50" x2="170.50" y2="544.50" stroke="#111" stroke-width="1.3"/>
<text x="165.00" y="549.41" font-size="10.5" text-anchor="end">90</text>
<line x1="167.00" y1="516.50" x2="170.50" y2="516.50" stroke="#111" stroke-width="1.3"/>
<text x="165.00" y="521.15" font-size="10.5" text-anchor="end">120</text>
<line x1="169.90" y1="629.50" x2="324.20" y2="629.50" stroke="#111" stroke-width="1.3"/>
<line x1="170.00" y1="629.50" x2="170.00" y2="633.00" stroke="#111" stroke-width="1.3"/>
<line x1="221.40" y1="629.50" x2="221.40" y2="633.00" stroke="#111" stroke-width="1.3"/>
<line x1="272.80" y1="629.50" x2="272.80" y2="633.00" stroke="#111" stroke-width="1.3"/>
<line x1="324.20" y1="629.50" x2="324.20" y2="633.00" stroke="#111" stroke-width="1.3"/>
<text x="170.00" y="645.50" font-size="10.5" text-anchor="middle">0.00</text>
<text x="221.40" y="645.50" font-size="10.5" text-anchor="middle">0.05</text>
<text x="272.80" y="645.50" font-size="10.5" text-anchor="middle">0.10</text>
<text x="324.20" y="645.50" font-size="10.5" text-anchor="middle">0.15</text>
<text x="251.30" y="657.30" font-size="10.5" text-anchor="middle">TMAO (pM/mg)</text>
<text x="147.3" y="563.8" font-size="10.5" text-anchor="middle" transform="rotate(-90 147.3 563.8)">Age (years)</text>
<text x="244.00" y="604.20" font-size="10.5">p=0.0022**</text>
<text x="244.00" y="614.80" font-size="10.5">r=0.7467</text>
<path d="M186.60 585.59 L191.57 583.84 L196.54 582.00 L201.51 580.09 L206.48 578.09 L211.45 576.02 L216.42 573.86 L221.39 571.63 L226.36 569.31 L231.33 566.91 L236.30 564.43 L241.27 561.87 L246.23 559.23 L251.20 556.51 L256.17 553.71 L261.14 550.83 L266.11 547.87 L271.08 544.83 L276.05 541.71 L281.02 538.50 L285.99 535.22 L290.96 531.85 L295.93 528.41 L300.90 524.88" fill="none" stroke="#5a5aff" stroke-width="0.8" stroke-dasharray="1.6 0.8"/>
<path d="M186.60 604.06 L191.57 600.71 L196.54 597.51 L201.51 594.48 L206.48 591.61 L211.45 588.89 L216.42 586.34 L221.39 583.94 L226.36 581.71 L231.33 579.63 L236.30 577.71 L241.27 575.95 L246.23 574.35 L251.20 572.92 L256.17 571.63 L261.14 570.51 L266.11 569.55 L271.08 568.75 L276.05 568.11 L281.02 567.62 L285.99 567.30 L290.96 567.13 L295.93 567.13 L300.90 567.28" fill="none" stroke="#5a5aff" stroke-width="0.8" stroke-dasharray="1.6 0.8"/>
<line x1="186.60" y1="594.30" x2="300.90" y2="546.30" stroke="#2020ff" stroke-width="1.3"/>
<circle cx="186.70" cy="614.30" r="2.4" fill="#0000ff"/>
<circle cx="189.60" cy="607.80" r="2.4" fill="#0000ff"/>
<circle cx="197.30" cy="593.90" r="2.4" fill="#0000ff"/>
<circle cx="198.70" cy="595.60" r="2.4" fill="#0000ff"/>
<circle cx="205.70" cy="586.10" r="2.4" fill="#0000ff"/>
<circle cx="211.40" cy="573.00" r="2.4" fill="#0000ff"/>
<circle cx="215.30" cy="573.00" r="2.4" fill="#0000ff"/>
<circle cx="216.10" cy="567.30" r="2.4" fill="#0000ff"/>
<circle cx="221.50" cy="566.40" r="2.4" fill="#0000ff"/>
<circle cx="230.80" cy="570.90" r="2.4" fill="#0000ff"/>
<circle cx="253.20" cy="565.40" r="2.4" fill="#0000ff"/>
<circle cx="300.50" cy="561.80" r="2.4" fill="#0000ff"/>
<text x="353.90" y="511.10" font-size="10.5" font-weight="bold" fill="#000">k</text>
<line x1="422.50" y1="630.10" x2="422.50" y2="515.00" stroke="#111" stroke-width="1.3"/>
<line x1="417.00" y1="629.50" x2="422.50" y2="629.50" stroke="#111" stroke-width="1.3"/>
<text x="414.00" y="635.76" font-size="10.5" text-anchor="end">0</text>
<line x1="417.00" y1="606.50" x2="422.50" y2="606.50" stroke="#111" stroke-width="1.3"/>
<text x="414.00" y="609.08" font-size="10.5" text-anchor="end">50</text>
<line x1="417.00" y1="583.50" x2="422.50" y2="583.50" stroke="#111" stroke-width="1.3"/>
<text x="414.00" y="586.20" font-size="10.5" text-anchor="end">100</text>
<line x1="417.00" y1="560.50" x2="422.50" y2="560.50" stroke="#111" stroke-width="1.3"/>
<text x="414.00" y="563.32" font-size="10.5" text-anchor="end">150</text>
<line x1="417.00" y1="537.50" x2="422.50" y2="537.50" stroke="#111" stroke-width="1.3"/>
<text x="414.00" y="540.44" font-size="10.5" text-anchor="end">200</text>
<line x1="417.00" y1="515.50" x2="422.50" y2="515.50" stroke="#111" stroke-width="1.3"/>
<text x="414.00" y="517.56" font-size="10.5" text-anchor="end">250</text>
<line x1="421.90" y1="629.50" x2="506.60" y2="629.50" stroke="#111" stroke-width="1.3"/>
<line x1="439.20" y1="629.50" x2="439.20" y2="633.00" stroke="#111" stroke-width="1.3"/>
<line x1="464.60" y1="629.50" x2="464.60" y2="633.00" stroke="#111" stroke-width="1.3"/>
<line x1="489.80" y1="629.50" x2="489.80" y2="633.00" stroke="#111" stroke-width="1.3"/>
<text x="443.70" y="639.90" font-size="10.5" text-anchor="end" transform="rotate(-45 443.70 639.90)">Baseline</text>
<text x="469.60" y="639.90" font-size="10.5" text-anchor="end" transform="rotate(-45 469.60 639.90)">1-year</text>
<text x="495.50" y="639.90" font-size="10.5" text-anchor="end" transform="rotate(-45 495.50 639.90)">2-year</text>
<text x="379.8" y="576.3" font-size="10.5" text-anchor="middle" transform="rotate(-90 379.8 576.3)">Normalized <tspan font-style="italic">FMO3</tspan></text>
<text x="389.6" y="575.6" font-size="10.5" text-anchor="middle" transform="rotate(-90 389.6 575.6)">expression x 10<tspan font-size="7" dy="-4">3</tspan></text>
<line x1="439.20" y1="526.90" x2="464.60" y2="602.40" stroke="#ee22cc" stroke-width="1.2"/>
<line x1="439.20" y1="535.59" x2="464.60" y2="575.40" stroke="#ee22cc" stroke-width="1.2"/>
<line x1="439.20" y1="539.71" x2="464.60" y2="602.40" stroke="#ee22cc" stroke-width="1.2"/>
<line x1="439.20" y1="543.83" x2="464.60" y2="575.40" stroke="#ee22cc" stroke-width="1.2"/>
<line x1="439.20" y1="557.56" x2="464.60" y2="566.25" stroke="#ee22cc" stroke-width="1.2"/>
<line x1="439.20" y1="574.95" x2="464.60" y2="588.22" stroke="#ee22cc" stroke-width="1.2"/>
<line x1="464.60" y1="602.40" x2="489.80" y2="589.13" stroke="#0a6e0a" stroke-width="1.2"/>
<line x1="464.60" y1="575.40" x2="489.80" y2="552.07" stroke="#0a6e0a" stroke-width="1.2"/>
<line x1="464.60" y1="602.40" x2="489.80" y2="609.95" stroke="#0a6e0a" stroke-width="1.2"/>
<line x1="464.60" y1="575.40" x2="489.80" y2="568.54" stroke="#0a6e0a" stroke-width="1.2"/>
<line x1="464.60" y1="566.25" x2="489.80" y2="575.86" stroke="#0a6e0a" stroke-width="1.2"/>
<line x1="464.60" y1="588.22" x2="489.80" y2="600.57" stroke="#0a6e0a" stroke-width="1.2"/>
<circle cx="439.20" cy="526.90" r="2.3" fill="#ee22cc"/>
<circle cx="439.20" cy="535.59" r="2.3" fill="#ee22cc"/>
<circle cx="439.20" cy="539.71" r="2.3" fill="#ee22cc"/>
<circle cx="439.20" cy="543.83" r="2.3" fill="#ee22cc"/>
<circle cx="439.20" cy="557.56" r="2.3" fill="#ee22cc"/>
<circle cx="439.20" cy="574.95" r="2.3" fill="#ee22cc"/>
<circle cx="464.60" cy="602.40" r="2.3" fill="#0a6e0a"/>
<circle cx="464.60" cy="575.40" r="2.3" fill="#0a6e0a"/>
<circle cx="464.60" cy="602.40" r="2.3" fill="#0a6e0a"/>
<circle cx="464.60" cy="575.40" r="2.3" fill="#0a6e0a"/>
<circle cx="464.60" cy="566.25" r="2.3" fill="#0a6e0a"/>
<circle cx="464.60" cy="588.22" r="2.3" fill="#0a6e0a"/>
<circle cx="489.80" cy="589.13" r="2.3" fill="#ff6a00"/>
<circle cx="489.80" cy="552.07" r="2.3" fill="#ff6a00"/>
<circle cx="489.80" cy="609.95" r="2.3" fill="#ff6a00"/>
<circle cx="489.80" cy="568.54" r="2.3" fill="#ff6a00"/>
<circle cx="489.80" cy="575.86" r="2.3" fill="#ff6a00"/>
<circle cx="489.80" cy="600.57" r="2.3" fill="#ff6a00"/>
<line x1="436.60" y1="506.70" x2="467.50" y2="506.70" stroke="#2a2a2a" stroke-width="1.3"/>
<text x="452.05" y="503.30" font-size="9.3" text-anchor="middle" fill="#222">0.0412</text>
<line x1="436.60" y1="520.20" x2="490.40" y2="520.20" stroke="#2a2a2a" stroke-width="1.3"/>
<text x="463.50" y="517.10" font-size="9.3" text-anchor="middle" fill="#222">0.0432</text>
</svg>
</body></html>
